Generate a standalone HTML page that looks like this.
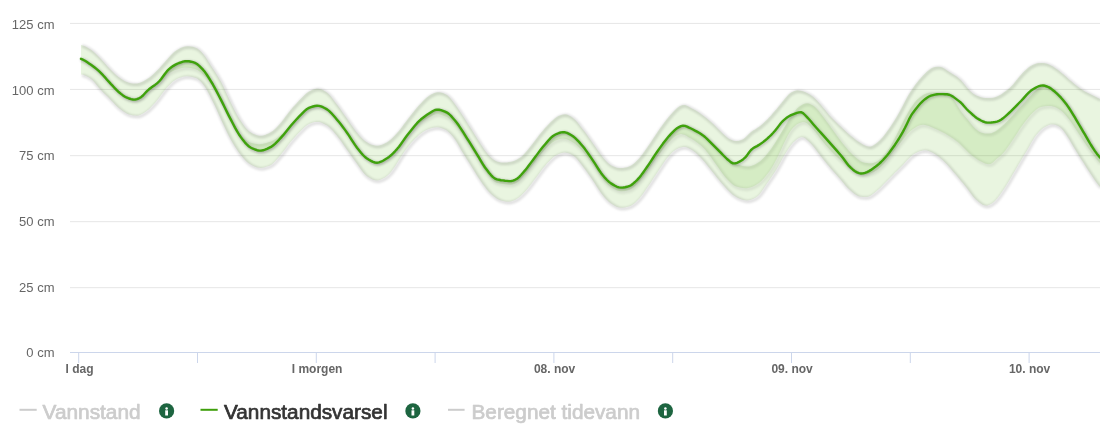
<!DOCTYPE html>
<html><head><meta charset="utf-8">
<style>
html,body{margin:0;padding:0;background:#fff;}
body{width:1100px;height:433px;overflow:hidden;position:relative;font-family:"Liberation Sans",sans-serif;}
svg{position:absolute;left:0;top:0;}
.yl{font-size:13px;fill:#666;text-anchor:end;}
.xl{font-size:12px;fill:#666;font-weight:bold;text-anchor:middle;}
.lg{font-size:20px;font-weight:normal;stroke-width:0.7px;paint-order:stroke;stroke-linejoin:round;}
</style></head>
<body>
<svg width="1100" height="433" viewBox="0 0 1100 433">
<rect width="1100" height="433" fill="#fff"/>
<!-- grid -->
<g stroke="#e6e6e6" stroke-width="1">
<line x1="70" x2="1100" y1="23.4" y2="23.4"/>
<line x1="70" x2="1100" y1="89.4" y2="89.4"/>
<line x1="70" x2="1100" y1="155.7" y2="155.7"/>
<line x1="70" x2="1100" y1="221.7" y2="221.7"/>
<line x1="70" x2="1100" y1="287.7" y2="287.7"/>
</g>
<!-- axis -->
<g stroke="#ccd6eb" stroke-width="1">
<line x1="70" x2="1100" y1="352.5" y2="352.5" shape-rendering="crispEdges"/>
<line x1="78.70" x2="78.70" y1="352" y2="363"/>
<line x1="197.50" x2="197.50" y1="352" y2="363"/>
<line x1="316.30" x2="316.30" y1="352" y2="363"/>
<line x1="435.10" x2="435.10" y1="352" y2="363"/>
<line x1="553.90" x2="553.90" y1="352" y2="363"/>
<line x1="672.70" x2="672.70" y1="352" y2="363"/>
<line x1="791.50" x2="791.50" y1="352" y2="363"/>
<line x1="910.30" x2="910.30" y1="352" y2="363"/>
<line x1="1029.10" x2="1029.10" y1="352" y2="363"/>
</g>
<!-- y labels -->
<g class="yl" opacity="0.999">
<text x="54.5" y="28.9">125 cm</text>
<text x="54.5" y="94.5">100 cm</text>
<text x="54.5" y="160">75 cm</text>
<text x="54.5" y="225.7">50 cm</text>
<text x="54.5" y="291.5">25 cm</text>
<text x="54.5" y="356.8">0 cm</text>
</g>
<!-- x labels -->
<g class="xl" opacity="0.999">
<text x="79.5" y="372.8">I dag</text>
<text x="317.1" y="372.8">I morgen</text>
<text x="554.6" y="372.8">08. nov</text>
<text x="792.1" y="372.8">09. nov</text>
<text x="1029.6" y="372.8">10. nov</text>
</g>
<defs>
<filter id="bl" x="-2%" y="-10%" width="104%" height="120%"><feGaussianBlur stdDeviation="1.0"/></filter>
<path id="pO" d="M81.0 44.9 L83.0 45.5 L85.0 46.3 L87.0 47.3 L89.0 48.5 L91.0 49.8 L93.0 51.3 L95.0 53.1 L97.0 55.0 L99.0 57.0 L101.0 59.1 L103.0 61.2 L105.0 63.5 L107.0 65.7 L109.0 67.9 L111.0 70.0 L113.0 72.0 L115.0 73.9 L117.0 75.7 L119.0 77.3 L121.0 78.7 L123.0 80.0 L125.0 81.2 L127.0 82.1 L129.0 82.8 L131.0 83.2 L133.0 83.4 L135.0 83.5 L137.0 83.5 L139.0 83.1 L141.0 82.3 L143.0 81.4 L145.0 80.3 L147.0 79.1 L149.0 77.8 L151.0 76.2 L153.0 74.4 L155.0 72.5 L157.0 70.6 L159.0 68.5 L161.0 66.2 L163.0 63.9 L165.0 61.7 L167.0 59.4 L169.0 57.2 L171.0 55.0 L173.0 53.0 L175.0 51.3 L177.0 49.9 L179.0 48.7 L181.0 47.7 L183.0 46.9 L185.0 46.4 L187.0 46.2 L189.0 46.3 L191.0 46.5 L193.0 46.8 L195.0 47.4 L197.0 48.3 L199.0 49.8 L201.0 51.6 L203.0 53.7 L205.0 56.3 L207.0 59.3 L209.0 62.5 L211.0 65.7 L213.0 68.7 L215.0 71.8 L217.0 74.9 L219.0 78.2 L221.0 81.8 L223.0 85.8 L225.0 90.1 L227.0 94.4 L229.0 98.7 L231.0 102.9 L233.0 107.0 L235.0 110.9 L237.0 114.7 L239.0 118.2 L241.0 121.3 L243.0 124.3 L245.0 127.0 L247.0 129.3 L249.0 131.2 L251.0 132.6 L253.0 133.7 L255.0 134.6 L257.0 135.3 L259.0 135.7 L261.0 135.8 L263.0 135.5 L265.0 134.9 L267.0 134.1 L269.0 133.2 L271.0 132.1 L273.0 130.7 L275.0 128.9 L277.0 126.9 L279.0 124.7 L281.0 122.4 L283.0 120.0 L285.0 117.3 L287.0 114.6 L289.0 111.9 L291.0 109.4 L293.0 107.1 L295.0 104.9 L297.0 102.7 L299.0 100.6 L301.0 98.6 L303.0 96.5 L305.0 94.5 L307.0 92.8 L309.0 91.5 L311.0 90.4 L313.0 89.5 L315.0 88.9 L317.0 88.6 L319.0 88.7 L321.0 89.2 L323.0 90.1 L325.0 91.2 L327.0 92.5 L329.0 94.3 L331.0 96.6 L333.0 99.2 L335.0 101.9 L337.0 104.6 L339.0 107.3 L341.0 110.1 L343.0 112.9 L345.0 115.8 L347.0 118.6 L349.0 121.5 L351.0 124.4 L353.0 127.3 L355.0 130.0 L357.0 132.5 L359.0 134.9 L361.0 137.2 L363.0 139.2 L365.0 141.0 L367.0 142.3 L369.0 143.4 L371.0 144.4 L373.0 145.1 L375.0 145.6 L377.0 145.8 L379.0 145.5 L381.0 145.0 L383.0 144.2 L385.0 143.3 L387.0 142.2 L389.0 140.8 L391.0 139.2 L393.0 137.3 L395.0 135.2 L397.0 133.0 L399.0 130.7 L401.0 128.2 L403.0 125.5 L405.0 122.8 L407.0 120.2 L409.0 117.6 L411.0 115.1 L413.0 112.5 L415.0 110.0 L417.0 107.6 L419.0 105.3 L421.0 103.2 L423.0 101.1 L425.0 99.1 L427.0 97.3 L429.0 95.8 L431.0 94.6 L433.0 93.6 L435.0 92.7 L437.0 92.2 L439.0 92.2 L441.0 92.5 L443.0 93.1 L445.0 93.9 L447.0 95.1 L449.0 96.7 L451.0 99.0 L453.0 101.6 L455.0 104.3 L457.0 107.1 L459.0 109.9 L461.0 112.9 L463.0 116.0 L465.0 119.1 L467.0 122.2 L469.0 125.4 L471.0 128.6 L473.0 131.8 L475.0 135.0 L477.0 138.2 L479.0 141.3 L481.0 144.5 L483.0 147.6 L485.0 150.4 L487.0 153.0 L489.0 155.4 L491.0 157.5 L493.0 159.3 L495.0 160.5 L497.0 161.4 L499.0 162.1 L501.0 162.5 L503.0 162.6 L505.0 162.6 L507.0 162.4 L509.0 162.1 L511.0 161.7 L513.0 161.2 L515.0 160.4 L517.0 159.4 L519.0 158.3 L521.0 156.9 L523.0 155.2 L525.0 153.1 L527.0 150.7 L529.0 148.3 L531.0 145.8 L533.0 143.2 L535.0 140.6 L537.0 137.9 L539.0 135.2 L541.0 132.8 L543.0 130.4 L545.0 128.1 L547.0 125.9 L549.0 123.8 L551.0 121.8 L553.0 120.0 L555.0 118.2 L557.0 116.7 L559.0 115.7 L561.0 114.9 L563.0 114.4 L565.0 114.3 L567.0 114.6 L569.0 115.5 L571.0 116.6 L573.0 118.0 L575.0 119.7 L577.0 121.8 L579.0 124.3 L581.0 126.9 L583.0 129.5 L585.0 132.1 L587.0 134.8 L589.0 137.7 L591.0 140.5 L593.0 143.4 L595.0 146.3 L597.0 149.2 L599.0 152.1 L601.0 154.8 L603.0 157.4 L605.0 159.7 L607.0 161.9 L609.0 163.8 L611.0 165.2 L613.0 166.2 L615.0 167.1 L617.0 167.7 L619.0 168.0 L621.0 168.1 L623.0 167.9 L625.0 167.6 L627.0 167.2 L629.0 166.5 L631.0 165.5 L633.0 164.2 L635.0 162.6 L637.0 160.6 L639.0 158.4 L641.0 156.0 L643.0 153.4 L645.0 150.6 L647.0 147.7 L649.0 144.8 L651.0 141.9 L653.0 138.8 L655.0 135.8 L657.0 132.8 L659.0 129.8 L661.0 127.0 L663.0 124.2 L665.0 121.5 L667.0 119.0 L669.0 116.5 L671.0 114.2 L673.0 112.0 L675.0 109.9 L677.0 108.1 L679.0 106.6 L681.0 105.5 L683.0 104.9 L685.0 105.1 L687.0 105.8 L689.0 106.8 L691.0 107.9 L693.0 108.9 L695.0 110.1 L697.0 111.3 L699.0 112.6 L701.0 114.0 L703.0 115.5 L705.0 117.0 L707.0 118.6 L709.0 120.3 L711.0 122.0 L713.0 123.8 L715.0 125.7 L717.0 127.7 L719.0 129.8 L721.0 131.8 L723.0 133.7 L725.0 135.6 L727.0 137.3 L729.0 138.7 L731.0 139.7 L733.0 140.5 L735.0 140.9 L737.0 141.0 L739.0 140.7 L741.0 140.1 L743.0 139.2 L745.0 137.7 L747.0 135.7 L749.0 133.7 L751.0 132.0 L753.0 130.6 L755.0 129.4 L757.0 128.1 L759.0 126.7 L761.0 125.2 L763.0 123.4 L765.0 121.6 L767.0 119.7 L769.0 117.6 L771.0 115.4 L773.0 113.1 L775.0 110.7 L777.0 108.4 L779.0 105.9 L781.0 103.5 L783.0 101.1 L785.0 98.6 L787.0 96.2 L789.0 94.1 L791.0 92.6 L793.0 91.5 L795.0 90.7 L797.0 90.3 L799.0 90.4 L801.0 90.8 L803.0 91.3 L805.0 92.0 L807.0 92.9 L809.0 94.0 L811.0 95.3 L813.0 96.8 L815.0 98.6 L817.0 100.6 L819.0 102.8 L821.0 105.0 L823.0 107.4 L825.0 109.8 L827.0 112.3 L829.0 114.7 L831.0 116.9 L833.0 119.0 L835.0 121.0 L837.0 122.9 L839.0 124.9 L841.0 126.8 L843.0 128.7 L845.0 130.6 L847.0 132.5 L849.0 134.3 L851.0 136.0 L853.0 137.6 L855.0 139.2 L857.0 140.7 L859.0 142.1 L861.0 143.3 L863.0 144.4 L865.0 145.4 L867.0 146.2 L869.0 146.6 L871.0 146.4 L873.0 145.5 L875.0 144.2 L877.0 142.7 L879.0 141.0 L881.0 139.0 L883.0 136.7 L885.0 134.2 L887.0 131.5 L889.0 128.7 L891.0 125.8 L893.0 122.7 L895.0 119.5 L897.0 116.2 L899.0 112.7 L901.0 109.0 L903.0 105.2 L905.0 101.3 L907.0 97.6 L909.0 94.1 L911.0 90.9 L913.0 87.9 L915.0 85.1 L917.0 82.5 L919.0 80.0 L921.0 77.7 L923.0 75.6 L925.0 73.5 L927.0 71.6 L929.0 69.9 L931.0 68.5 L933.0 67.5 L935.0 67.0 L937.0 66.8 L939.0 66.8 L941.0 67.1 L943.0 67.8 L945.0 69.1 L947.0 70.5 L949.0 71.8 L951.0 73.1 L953.0 74.2 L955.0 75.5 L957.0 76.8 L959.0 78.4 L961.0 80.3 L963.0 82.6 L965.0 85.1 L967.0 87.5 L969.0 89.7 L971.0 91.7 L973.0 93.4 L975.0 94.7 L977.0 95.8 L979.0 96.6 L981.0 97.2 L983.0 97.7 L985.0 97.9 L987.0 98.1 L989.0 98.1 L991.0 98.1 L993.0 97.7 L995.0 97.2 L997.0 96.5 L999.0 95.6 L1001.0 94.4 L1003.0 93.0 L1005.0 91.6 L1007.0 90.1 L1009.0 88.5 L1011.0 86.6 L1013.0 84.4 L1015.0 82.0 L1017.0 79.5 L1019.0 77.1 L1021.0 74.8 L1023.0 72.6 L1025.0 70.6 L1027.0 68.8 L1029.0 67.1 L1031.0 65.8 L1033.0 64.8 L1035.0 63.9 L1037.0 63.3 L1039.0 63.1 L1041.0 63.0 L1043.0 63.0 L1045.0 63.2 L1047.0 63.7 L1049.0 64.5 L1051.0 65.4 L1053.0 66.6 L1055.0 67.9 L1057.0 69.3 L1059.0 70.8 L1061.0 72.4 L1063.0 74.1 L1065.0 75.8 L1067.0 77.6 L1069.0 79.4 L1071.0 81.1 L1073.0 82.8 L1075.0 84.4 L1077.0 86.0 L1079.0 87.5 L1081.0 88.9 L1083.0 90.2 L1085.0 91.4 L1087.0 92.5 L1089.0 93.5 L1091.0 94.5 L1093.0 95.5 L1095.0 96.6 L1097.0 97.6 L1099.0 98.6 L1100.0 99.1 L1100.0 187.1 L1099.0 185.7 L1097.0 183.3 L1095.0 180.5 L1093.0 177.6 L1091.0 174.6 L1089.0 171.5 L1087.0 168.4 L1085.0 165.3 L1083.0 162.1 L1081.0 159.0 L1079.0 155.8 L1077.0 152.6 L1075.0 149.3 L1073.0 146.0 L1071.0 142.5 L1069.0 139.1 L1067.0 135.9 L1065.0 133.0 L1063.0 130.3 L1061.0 128.1 L1059.0 126.6 L1057.0 125.5 L1055.0 124.8 L1053.0 124.4 L1051.0 124.5 L1049.0 125.0 L1047.0 125.9 L1045.0 126.9 L1043.0 128.2 L1041.0 129.9 L1039.0 131.9 L1037.0 134.2 L1035.0 136.8 L1033.0 139.9 L1031.0 143.3 L1029.0 146.9 L1027.0 150.4 L1025.0 153.7 L1023.0 157.0 L1021.0 160.4 L1019.0 163.8 L1017.0 167.3 L1015.0 170.7 L1013.0 174.1 L1011.0 177.5 L1009.0 180.9 L1007.0 184.3 L1005.0 187.5 L1003.0 190.5 L1001.0 193.5 L999.0 196.3 L997.0 198.8 L995.0 201.0 L993.0 202.7 L991.0 204.1 L989.0 205.1 L987.0 205.7 L985.0 205.6 L983.0 204.9 L981.0 203.8 L979.0 202.3 L977.0 200.6 L975.0 198.8 L973.0 196.5 L971.0 193.8 L969.0 191.1 L967.0 188.3 L965.0 185.8 L963.0 183.3 L961.0 180.9 L959.0 178.5 L957.0 176.1 L955.0 173.8 L953.0 171.5 L951.0 169.1 L949.0 166.8 L947.0 164.5 L945.0 162.4 L943.0 160.5 L941.0 158.7 L939.0 157.1 L937.0 155.5 L935.0 154.2 L933.0 153.0 L931.0 152.0 L929.0 151.2 L927.0 150.6 L925.0 150.3 L923.0 150.5 L921.0 150.9 L919.0 151.5 L917.0 152.4 L915.0 153.5 L913.0 154.8 L911.0 156.5 L909.0 158.5 L907.0 160.6 L905.0 162.7 L903.0 164.9 L901.0 166.9 L899.0 168.9 L897.0 170.9 L895.0 172.8 L893.0 174.9 L891.0 177.0 L889.0 179.0 L887.0 181.1 L885.0 183.1 L883.0 185.1 L881.0 187.2 L879.0 189.1 L877.0 190.8 L875.0 192.5 L873.0 194.1 L871.0 195.5 L869.0 196.5 L867.0 197.0 L865.0 197.1 L863.0 197.0 L861.0 196.8 L859.0 196.4 L857.0 195.5 L855.0 194.2 L853.0 192.7 L851.0 191.0 L849.0 189.2 L847.0 187.2 L845.0 184.9 L843.0 182.4 L841.0 180.0 L839.0 177.7 L837.0 175.4 L835.0 173.2 L833.0 171.0 L831.0 168.7 L829.0 166.3 L827.0 163.9 L825.0 161.4 L823.0 158.9 L821.0 156.4 L819.0 153.8 L817.0 151.2 L815.0 148.5 L813.0 146.0 L811.0 143.7 L809.0 141.7 L807.0 139.9 L805.0 138.3 L803.0 137.3 L801.0 137.2 L799.0 137.9 L797.0 139.2 L795.0 140.9 L793.0 142.8 L791.0 145.2 L789.0 148.0 L787.0 151.0 L785.0 154.2 L783.0 157.6 L781.0 161.3 L779.0 164.9 L777.0 168.4 L775.0 171.7 L773.0 174.8 L771.0 177.8 L769.0 180.7 L767.0 183.6 L765.0 186.5 L763.0 189.6 L761.0 192.5 L759.0 195.0 L757.0 196.8 L755.0 198.1 L753.0 199.0 L751.0 199.8 L749.0 200.3 L747.0 200.5 L745.0 200.3 L743.0 199.9 L741.0 199.2 L739.0 198.4 L737.0 197.4 L735.0 196.3 L733.0 194.9 L731.0 193.2 L729.0 191.2 L727.0 189.2 L725.0 187.0 L723.0 184.8 L721.0 182.5 L719.0 180.1 L717.0 177.7 L715.0 175.1 L713.0 172.6 L711.0 170.1 L709.0 167.6 L707.0 165.1 L705.0 162.6 L703.0 160.3 L701.0 158.1 L699.0 156.0 L697.0 154.1 L695.0 152.3 L693.0 150.8 L691.0 149.5 L689.0 148.4 L687.0 147.5 L685.0 147.0 L683.0 147.0 L681.0 147.4 L679.0 148.0 L677.0 148.9 L675.0 150.2 L673.0 151.8 L671.0 153.8 L669.0 155.9 L667.0 158.3 L665.0 161.0 L663.0 163.9 L661.0 167.0 L659.0 170.0 L657.0 173.0 L655.0 176.1 L653.0 179.1 L651.0 182.2 L649.0 185.2 L647.0 188.1 L645.0 191.0 L643.0 193.9 L641.0 196.6 L639.0 199.0 L637.0 201.1 L635.0 202.9 L633.0 204.4 L631.0 205.7 L629.0 206.5 L627.0 207.1 L625.0 207.5 L623.0 207.7 L621.0 207.8 L619.0 207.5 L617.0 206.9 L615.0 205.9 L613.0 204.7 L611.0 203.4 L609.0 201.9 L607.0 200.1 L605.0 197.9 L603.0 195.6 L601.0 193.0 L599.0 190.1 L597.0 186.9 L595.0 183.8 L593.0 180.7 L591.0 177.7 L589.0 174.9 L587.0 172.1 L585.0 169.3 L583.0 166.7 L581.0 164.1 L579.0 161.5 L577.0 159.1 L575.0 157.0 L573.0 155.5 L571.0 154.4 L569.0 153.5 L567.0 152.9 L565.0 152.6 L563.0 152.8 L561.0 153.2 L559.0 154.0 L557.0 154.9 L555.0 156.1 L553.0 157.6 L551.0 159.4 L549.0 161.4 L547.0 163.6 L545.0 165.9 L543.0 168.3 L541.0 171.0 L539.0 173.7 L537.0 176.4 L535.0 179.1 L533.0 181.8 L531.0 184.5 L529.0 187.1 L527.0 189.5 L525.0 191.7 L523.0 193.8 L521.0 195.7 L519.0 197.5 L517.0 198.8 L515.0 199.9 L513.0 200.7 L511.0 201.4 L509.0 201.7 L507.0 201.8 L505.0 201.5 L503.0 201.1 L501.0 200.5 L499.0 199.7 L497.0 198.7 L495.0 197.3 L493.0 195.7 L491.0 194.0 L489.0 192.0 L487.0 189.7 L485.0 187.1 L483.0 184.4 L481.0 181.5 L479.0 178.5 L477.0 175.4 L475.0 172.2 L473.0 168.9 L471.0 165.7 L469.0 162.5 L467.0 159.4 L465.0 156.2 L463.0 153.1 L461.0 149.7 L459.0 146.1 L457.0 142.6 L455.0 139.5 L453.0 136.8 L451.0 134.4 L449.0 132.4 L447.0 130.8 L445.0 129.6 L443.0 128.7 L441.0 128.0 L439.0 127.5 L437.0 127.3 L435.0 127.4 L433.0 127.8 L431.0 128.3 L429.0 128.9 L427.0 129.7 L425.0 130.8 L423.0 132.1 L421.0 133.5 L419.0 135.1 L417.0 136.9 L415.0 138.8 L413.0 140.9 L411.0 143.1 L409.0 145.5 L407.0 148.0 L405.0 150.8 L403.0 153.7 L401.0 156.8 L399.0 160.0 L397.0 163.3 L395.0 166.4 L393.0 169.3 L391.0 172.0 L389.0 174.3 L387.0 176.1 L385.0 177.5 L383.0 178.6 L381.0 179.5 L379.0 180.2 L377.0 180.4 L375.0 180.3 L373.0 179.7 L371.0 178.8 L369.0 177.6 L367.0 176.3 L365.0 174.6 L363.0 172.3 L361.0 169.6 L359.0 166.7 L357.0 163.8 L355.0 161.1 L353.0 158.3 L351.0 155.4 L349.0 152.6 L347.0 149.7 L345.0 146.9 L343.0 144.0 L341.0 141.1 L339.0 138.4 L337.0 135.8 L335.0 133.4 L333.0 131.1 L331.0 128.9 L329.0 127.0 L327.0 125.5 L325.0 124.4 L323.0 123.4 L321.0 122.6 L319.0 122.1 L317.0 121.9 L315.0 122.1 L313.0 122.6 L311.0 123.2 L309.0 124.1 L307.0 125.2 L305.0 126.8 L303.0 128.7 L301.0 130.7 L299.0 132.7 L297.0 134.8 L295.0 137.0 L293.0 139.3 L291.0 141.6 L289.0 144.1 L287.0 146.7 L285.0 149.4 L283.0 152.1 L281.0 154.6 L279.0 157.0 L277.0 159.3 L275.0 161.5 L273.0 163.5 L271.0 164.9 L269.0 165.9 L267.0 166.6 L265.0 167.2 L263.0 167.7 L261.0 167.9 L259.0 167.8 L257.0 167.4 L255.0 166.7 L253.0 165.8 L251.0 164.8 L249.0 163.5 L247.0 161.9 L245.0 159.9 L243.0 157.7 L241.0 155.2 L239.0 152.7 L237.0 149.8 L235.0 146.7 L233.0 143.4 L231.0 139.9 L229.0 136.2 L227.0 132.3 L225.0 128.1 L223.0 123.8 L221.0 119.4 L219.0 115.0 L217.0 110.5 L215.0 106.0 L213.0 101.9 L211.0 97.9 L209.0 94.1 L207.0 90.3 L205.0 87.0 L203.0 84.2 L201.0 81.8 L199.0 79.9 L197.0 78.5 L195.0 77.7 L193.0 77.2 L191.0 76.7 L189.0 76.4 L187.0 76.3 L185.0 76.4 L183.0 76.8 L181.0 77.4 L179.0 78.1 L177.0 79.0 L175.0 80.2 L173.0 81.6 L171.0 83.4 L169.0 85.5 L167.0 87.6 L165.0 89.9 L163.0 92.5 L161.0 95.2 L159.0 98.0 L157.0 100.5 L155.0 102.9 L153.0 105.1 L151.0 107.3 L149.0 109.2 L147.0 110.8 L145.0 112.3 L143.0 113.5 L141.0 114.6 L139.0 115.4 L137.0 115.7 L135.0 115.6 L133.0 115.4 L131.0 115.1 L129.0 114.6 L127.0 113.7 L125.0 112.6 L123.0 111.3 L121.0 109.8 L119.0 108.3 L117.0 106.4 L115.0 104.4 L113.0 102.3 L111.0 100.2 L109.0 98.1 L107.0 96.1 L105.0 94.2 L103.0 92.2 L101.0 90.1 L99.0 87.9 L97.0 85.5 L95.0 83.1 L93.0 80.8 L91.0 79.0 L89.0 77.6 L87.0 76.5 L85.0 75.5 L83.0 74.8 L81.0 74.4 Z"/>
<path id="pOe" d="M81.0 44.9 L83.0 45.5 L85.0 46.3 L87.0 47.3 L89.0 48.5 L91.0 49.8 L93.0 51.3 L95.0 53.1 L97.0 55.0 L99.0 57.0 L101.0 59.1 L103.0 61.2 L105.0 63.5 L107.0 65.7 L109.0 67.9 L111.0 70.0 L113.0 72.0 L115.0 73.9 L117.0 75.7 L119.0 77.3 L121.0 78.7 L123.0 80.0 L125.0 81.2 L127.0 82.1 L129.0 82.8 L131.0 83.2 L133.0 83.4 L135.0 83.5 L137.0 83.5 L139.0 83.1 L141.0 82.3 L143.0 81.4 L145.0 80.3 L147.0 79.1 L149.0 77.8 L151.0 76.2 L153.0 74.4 L155.0 72.5 L157.0 70.6 L159.0 68.5 L161.0 66.2 L163.0 63.9 L165.0 61.7 L167.0 59.4 L169.0 57.2 L171.0 55.0 L173.0 53.0 L175.0 51.3 L177.0 49.9 L179.0 48.7 L181.0 47.7 L183.0 46.9 L185.0 46.4 L187.0 46.2 L189.0 46.3 L191.0 46.5 L193.0 46.8 L195.0 47.4 L197.0 48.3 L199.0 49.8 L201.0 51.6 L203.0 53.7 L205.0 56.3 L207.0 59.3 L209.0 62.5 L211.0 65.7 L213.0 68.7 L215.0 71.8 L217.0 74.9 L219.0 78.2 L221.0 81.8 L223.0 85.8 L225.0 90.1 L227.0 94.4 L229.0 98.7 L231.0 102.9 L233.0 107.0 L235.0 110.9 L237.0 114.7 L239.0 118.2 L241.0 121.3 L243.0 124.3 L245.0 127.0 L247.0 129.3 L249.0 131.2 L251.0 132.6 L253.0 133.7 L255.0 134.6 L257.0 135.3 L259.0 135.7 L261.0 135.8 L263.0 135.5 L265.0 134.9 L267.0 134.1 L269.0 133.2 L271.0 132.1 L273.0 130.7 L275.0 128.9 L277.0 126.9 L279.0 124.7 L281.0 122.4 L283.0 120.0 L285.0 117.3 L287.0 114.6 L289.0 111.9 L291.0 109.4 L293.0 107.1 L295.0 104.9 L297.0 102.7 L299.0 100.6 L301.0 98.6 L303.0 96.5 L305.0 94.5 L307.0 92.8 L309.0 91.5 L311.0 90.4 L313.0 89.5 L315.0 88.9 L317.0 88.6 L319.0 88.7 L321.0 89.2 L323.0 90.1 L325.0 91.2 L327.0 92.5 L329.0 94.3 L331.0 96.6 L333.0 99.2 L335.0 101.9 L337.0 104.6 L339.0 107.3 L341.0 110.1 L343.0 112.9 L345.0 115.8 L347.0 118.6 L349.0 121.5 L351.0 124.4 L353.0 127.3 L355.0 130.0 L357.0 132.5 L359.0 134.9 L361.0 137.2 L363.0 139.2 L365.0 141.0 L367.0 142.3 L369.0 143.4 L371.0 144.4 L373.0 145.1 L375.0 145.6 L377.0 145.8 L379.0 145.5 L381.0 145.0 L383.0 144.2 L385.0 143.3 L387.0 142.2 L389.0 140.8 L391.0 139.2 L393.0 137.3 L395.0 135.2 L397.0 133.0 L399.0 130.7 L401.0 128.2 L403.0 125.5 L405.0 122.8 L407.0 120.2 L409.0 117.6 L411.0 115.1 L413.0 112.5 L415.0 110.0 L417.0 107.6 L419.0 105.3 L421.0 103.2 L423.0 101.1 L425.0 99.1 L427.0 97.3 L429.0 95.8 L431.0 94.6 L433.0 93.6 L435.0 92.7 L437.0 92.2 L439.0 92.2 L441.0 92.5 L443.0 93.1 L445.0 93.9 L447.0 95.1 L449.0 96.7 L451.0 99.0 L453.0 101.6 L455.0 104.3 L457.0 107.1 L459.0 109.9 L461.0 112.9 L463.0 116.0 L465.0 119.1 L467.0 122.2 L469.0 125.4 L471.0 128.6 L473.0 131.8 L475.0 135.0 L477.0 138.2 L479.0 141.3 L481.0 144.5 L483.0 147.6 L485.0 150.4 L487.0 153.0 L489.0 155.4 L491.0 157.5 L493.0 159.3 L495.0 160.5 L497.0 161.4 L499.0 162.1 L501.0 162.5 L503.0 162.6 L505.0 162.6 L507.0 162.4 L509.0 162.1 L511.0 161.7 L513.0 161.2 L515.0 160.4 L517.0 159.4 L519.0 158.3 L521.0 156.9 L523.0 155.2 L525.0 153.1 L527.0 150.7 L529.0 148.3 L531.0 145.8 L533.0 143.2 L535.0 140.6 L537.0 137.9 L539.0 135.2 L541.0 132.8 L543.0 130.4 L545.0 128.1 L547.0 125.9 L549.0 123.8 L551.0 121.8 L553.0 120.0 L555.0 118.2 L557.0 116.7 L559.0 115.7 L561.0 114.9 L563.0 114.4 L565.0 114.3 L567.0 114.6 L569.0 115.5 L571.0 116.6 L573.0 118.0 L575.0 119.7 L577.0 121.8 L579.0 124.3 L581.0 126.9 L583.0 129.5 L585.0 132.1 L587.0 134.8 L589.0 137.7 L591.0 140.5 L593.0 143.4 L595.0 146.3 L597.0 149.2 L599.0 152.1 L601.0 154.8 L603.0 157.4 L605.0 159.7 L607.0 161.9 L609.0 163.8 L611.0 165.2 L613.0 166.2 L615.0 167.1 L617.0 167.7 L619.0 168.0 L621.0 168.1 L623.0 167.9 L625.0 167.6 L627.0 167.2 L629.0 166.5 L631.0 165.5 L633.0 164.2 L635.0 162.6 L637.0 160.6 L639.0 158.4 L641.0 156.0 L643.0 153.4 L645.0 150.6 L647.0 147.7 L649.0 144.8 L651.0 141.9 L653.0 138.8 L655.0 135.8 L657.0 132.8 L659.0 129.8 L661.0 127.0 L663.0 124.2 L665.0 121.5 L667.0 119.0 L669.0 116.5 L671.0 114.2 L673.0 112.0 L675.0 109.9 L677.0 108.1 L679.0 106.6 L681.0 105.5 L683.0 104.9 L685.0 105.1 L687.0 105.8 L689.0 106.8 L691.0 107.9 L693.0 108.9 L695.0 110.1 L697.0 111.3 L699.0 112.6 L701.0 114.0 L703.0 115.5 L705.0 117.0 L707.0 118.6 L709.0 120.3 L711.0 122.0 L713.0 123.8 L715.0 125.7 L717.0 127.7 L719.0 129.8 L721.0 131.8 L723.0 133.7 L725.0 135.6 L727.0 137.3 L729.0 138.7 L731.0 139.7 L733.0 140.5 L735.0 140.9 L737.0 141.0 L739.0 140.7 L741.0 140.1 L743.0 139.2 L745.0 137.7 L747.0 135.7 L749.0 133.7 L751.0 132.0 L753.0 130.6 L755.0 129.4 L757.0 128.1 L759.0 126.7 L761.0 125.2 L763.0 123.4 L765.0 121.6 L767.0 119.7 L769.0 117.6 L771.0 115.4 L773.0 113.1 L775.0 110.7 L777.0 108.4 L779.0 105.9 L781.0 103.5 L783.0 101.1 L785.0 98.6 L787.0 96.2 L789.0 94.1 L791.0 92.6 L793.0 91.5 L795.0 90.7 L797.0 90.3 L799.0 90.4 L801.0 90.8 L803.0 91.3 L805.0 92.0 L807.0 92.9 L809.0 94.0 L811.0 95.3 L813.0 96.8 L815.0 98.6 L817.0 100.6 L819.0 102.8 L821.0 105.0 L823.0 107.4 L825.0 109.8 L827.0 112.3 L829.0 114.7 L831.0 116.9 L833.0 119.0 L835.0 121.0 L837.0 122.9 L839.0 124.9 L841.0 126.8 L843.0 128.7 L845.0 130.6 L847.0 132.5 L849.0 134.3 L851.0 136.0 L853.0 137.6 L855.0 139.2 L857.0 140.7 L859.0 142.1 L861.0 143.3 L863.0 144.4 L865.0 145.4 L867.0 146.2 L869.0 146.6 L871.0 146.4 L873.0 145.5 L875.0 144.2 L877.0 142.7 L879.0 141.0 L881.0 139.0 L883.0 136.7 L885.0 134.2 L887.0 131.5 L889.0 128.7 L891.0 125.8 L893.0 122.7 L895.0 119.5 L897.0 116.2 L899.0 112.7 L901.0 109.0 L903.0 105.2 L905.0 101.3 L907.0 97.6 L909.0 94.1 L911.0 90.9 L913.0 87.9 L915.0 85.1 L917.0 82.5 L919.0 80.0 L921.0 77.7 L923.0 75.6 L925.0 73.5 L927.0 71.6 L929.0 69.9 L931.0 68.5 L933.0 67.5 L935.0 67.0 L937.0 66.8 L939.0 66.8 L941.0 67.1 L943.0 67.8 L945.0 69.1 L947.0 70.5 L949.0 71.8 L951.0 73.1 L953.0 74.2 L955.0 75.5 L957.0 76.8 L959.0 78.4 L961.0 80.3 L963.0 82.6 L965.0 85.1 L967.0 87.5 L969.0 89.7 L971.0 91.7 L973.0 93.4 L975.0 94.7 L977.0 95.8 L979.0 96.6 L981.0 97.2 L983.0 97.7 L985.0 97.9 L987.0 98.1 L989.0 98.1 L991.0 98.1 L993.0 97.7 L995.0 97.2 L997.0 96.5 L999.0 95.6 L1001.0 94.4 L1003.0 93.0 L1005.0 91.6 L1007.0 90.1 L1009.0 88.5 L1011.0 86.6 L1013.0 84.4 L1015.0 82.0 L1017.0 79.5 L1019.0 77.1 L1021.0 74.8 L1023.0 72.6 L1025.0 70.6 L1027.0 68.8 L1029.0 67.1 L1031.0 65.8 L1033.0 64.8 L1035.0 63.9 L1037.0 63.3 L1039.0 63.1 L1041.0 63.0 L1043.0 63.0 L1045.0 63.2 L1047.0 63.7 L1049.0 64.5 L1051.0 65.4 L1053.0 66.6 L1055.0 67.9 L1057.0 69.3 L1059.0 70.8 L1061.0 72.4 L1063.0 74.1 L1065.0 75.8 L1067.0 77.6 L1069.0 79.4 L1071.0 81.1 L1073.0 82.8 L1075.0 84.4 L1077.0 86.0 L1079.0 87.5 L1081.0 88.9 L1083.0 90.2 L1085.0 91.4 L1087.0 92.5 L1089.0 93.5 L1091.0 94.5 L1093.0 95.5 L1095.0 96.6 L1097.0 97.6 L1099.0 98.6 L1100.0 99.1 M81.0 74.4 L83.0 74.8 L85.0 75.5 L87.0 76.5 L89.0 77.6 L91.0 79.0 L93.0 80.8 L95.0 83.1 L97.0 85.5 L99.0 87.9 L101.0 90.1 L103.0 92.2 L105.0 94.2 L107.0 96.1 L109.0 98.1 L111.0 100.2 L113.0 102.3 L115.0 104.4 L117.0 106.4 L119.0 108.3 L121.0 109.8 L123.0 111.3 L125.0 112.6 L127.0 113.7 L129.0 114.6 L131.0 115.1 L133.0 115.4 L135.0 115.6 L137.0 115.7 L139.0 115.4 L141.0 114.6 L143.0 113.5 L145.0 112.3 L147.0 110.8 L149.0 109.2 L151.0 107.3 L153.0 105.1 L155.0 102.9 L157.0 100.5 L159.0 98.0 L161.0 95.2 L163.0 92.5 L165.0 89.9 L167.0 87.6 L169.0 85.5 L171.0 83.4 L173.0 81.6 L175.0 80.2 L177.0 79.0 L179.0 78.1 L181.0 77.4 L183.0 76.8 L185.0 76.4 L187.0 76.3 L189.0 76.4 L191.0 76.7 L193.0 77.2 L195.0 77.7 L197.0 78.5 L199.0 79.9 L201.0 81.8 L203.0 84.2 L205.0 87.0 L207.0 90.3 L209.0 94.1 L211.0 97.9 L213.0 101.9 L215.0 106.0 L217.0 110.5 L219.0 115.0 L221.0 119.4 L223.0 123.8 L225.0 128.1 L227.0 132.3 L229.0 136.2 L231.0 139.9 L233.0 143.4 L235.0 146.7 L237.0 149.8 L239.0 152.7 L241.0 155.2 L243.0 157.7 L245.0 159.9 L247.0 161.9 L249.0 163.5 L251.0 164.8 L253.0 165.8 L255.0 166.7 L257.0 167.4 L259.0 167.8 L261.0 167.9 L263.0 167.7 L265.0 167.2 L267.0 166.6 L269.0 165.9 L271.0 164.9 L273.0 163.5 L275.0 161.5 L277.0 159.3 L279.0 157.0 L281.0 154.6 L283.0 152.1 L285.0 149.4 L287.0 146.7 L289.0 144.1 L291.0 141.6 L293.0 139.3 L295.0 137.0 L297.0 134.8 L299.0 132.7 L301.0 130.7 L303.0 128.7 L305.0 126.8 L307.0 125.2 L309.0 124.1 L311.0 123.2 L313.0 122.6 L315.0 122.1 L317.0 121.9 L319.0 122.1 L321.0 122.6 L323.0 123.4 L325.0 124.4 L327.0 125.5 L329.0 127.0 L331.0 128.9 L333.0 131.1 L335.0 133.4 L337.0 135.8 L339.0 138.4 L341.0 141.1 L343.0 144.0 L345.0 146.9 L347.0 149.7 L349.0 152.6 L351.0 155.4 L353.0 158.3 L355.0 161.1 L357.0 163.8 L359.0 166.7 L361.0 169.6 L363.0 172.3 L365.0 174.6 L367.0 176.3 L369.0 177.6 L371.0 178.8 L373.0 179.7 L375.0 180.3 L377.0 180.4 L379.0 180.2 L381.0 179.5 L383.0 178.6 L385.0 177.5 L387.0 176.1 L389.0 174.3 L391.0 172.0 L393.0 169.3 L395.0 166.4 L397.0 163.3 L399.0 160.0 L401.0 156.8 L403.0 153.7 L405.0 150.8 L407.0 148.0 L409.0 145.5 L411.0 143.1 L413.0 140.9 L415.0 138.8 L417.0 136.9 L419.0 135.1 L421.0 133.5 L423.0 132.1 L425.0 130.8 L427.0 129.7 L429.0 128.9 L431.0 128.3 L433.0 127.8 L435.0 127.4 L437.0 127.3 L439.0 127.5 L441.0 128.0 L443.0 128.7 L445.0 129.6 L447.0 130.8 L449.0 132.4 L451.0 134.4 L453.0 136.8 L455.0 139.5 L457.0 142.6 L459.0 146.1 L461.0 149.7 L463.0 153.1 L465.0 156.2 L467.0 159.4 L469.0 162.5 L471.0 165.7 L473.0 168.9 L475.0 172.2 L477.0 175.4 L479.0 178.5 L481.0 181.5 L483.0 184.4 L485.0 187.1 L487.0 189.7 L489.0 192.0 L491.0 194.0 L493.0 195.7 L495.0 197.3 L497.0 198.7 L499.0 199.7 L501.0 200.5 L503.0 201.1 L505.0 201.5 L507.0 201.8 L509.0 201.7 L511.0 201.4 L513.0 200.7 L515.0 199.9 L517.0 198.8 L519.0 197.5 L521.0 195.7 L523.0 193.8 L525.0 191.7 L527.0 189.5 L529.0 187.1 L531.0 184.5 L533.0 181.8 L535.0 179.1 L537.0 176.4 L539.0 173.7 L541.0 171.0 L543.0 168.3 L545.0 165.9 L547.0 163.6 L549.0 161.4 L551.0 159.4 L553.0 157.6 L555.0 156.1 L557.0 154.9 L559.0 154.0 L561.0 153.2 L563.0 152.8 L565.0 152.6 L567.0 152.9 L569.0 153.5 L571.0 154.4 L573.0 155.5 L575.0 157.0 L577.0 159.1 L579.0 161.5 L581.0 164.1 L583.0 166.7 L585.0 169.3 L587.0 172.1 L589.0 174.9 L591.0 177.7 L593.0 180.7 L595.0 183.8 L597.0 186.9 L599.0 190.1 L601.0 193.0 L603.0 195.6 L605.0 197.9 L607.0 200.1 L609.0 201.9 L611.0 203.4 L613.0 204.7 L615.0 205.9 L617.0 206.9 L619.0 207.5 L621.0 207.8 L623.0 207.7 L625.0 207.5 L627.0 207.1 L629.0 206.5 L631.0 205.7 L633.0 204.4 L635.0 202.9 L637.0 201.1 L639.0 199.0 L641.0 196.6 L643.0 193.9 L645.0 191.0 L647.0 188.1 L649.0 185.2 L651.0 182.2 L653.0 179.1 L655.0 176.1 L657.0 173.0 L659.0 170.0 L661.0 167.0 L663.0 163.9 L665.0 161.0 L667.0 158.3 L669.0 155.9 L671.0 153.8 L673.0 151.8 L675.0 150.2 L677.0 148.9 L679.0 148.0 L681.0 147.4 L683.0 147.0 L685.0 147.0 L687.0 147.5 L689.0 148.4 L691.0 149.5 L693.0 150.8 L695.0 152.3 L697.0 154.1 L699.0 156.0 L701.0 158.1 L703.0 160.3 L705.0 162.6 L707.0 165.1 L709.0 167.6 L711.0 170.1 L713.0 172.6 L715.0 175.1 L717.0 177.7 L719.0 180.1 L721.0 182.5 L723.0 184.8 L725.0 187.0 L727.0 189.2 L729.0 191.2 L731.0 193.2 L733.0 194.9 L735.0 196.3 L737.0 197.4 L739.0 198.4 L741.0 199.2 L743.0 199.9 L745.0 200.3 L747.0 200.5 L749.0 200.3 L751.0 199.8 L753.0 199.0 L755.0 198.1 L757.0 196.8 L759.0 195.0 L761.0 192.5 L763.0 189.6 L765.0 186.5 L767.0 183.6 L769.0 180.7 L771.0 177.8 L773.0 174.8 L775.0 171.7 L777.0 168.4 L779.0 164.9 L781.0 161.3 L783.0 157.6 L785.0 154.2 L787.0 151.0 L789.0 148.0 L791.0 145.2 L793.0 142.8 L795.0 140.9 L797.0 139.2 L799.0 137.9 L801.0 137.2 L803.0 137.3 L805.0 138.3 L807.0 139.9 L809.0 141.7 L811.0 143.7 L813.0 146.0 L815.0 148.5 L817.0 151.2 L819.0 153.8 L821.0 156.4 L823.0 158.9 L825.0 161.4 L827.0 163.9 L829.0 166.3 L831.0 168.7 L833.0 171.0 L835.0 173.2 L837.0 175.4 L839.0 177.7 L841.0 180.0 L843.0 182.4 L845.0 184.9 L847.0 187.2 L849.0 189.2 L851.0 191.0 L853.0 192.7 L855.0 194.2 L857.0 195.5 L859.0 196.4 L861.0 196.8 L863.0 197.0 L865.0 197.1 L867.0 197.0 L869.0 196.5 L871.0 195.5 L873.0 194.1 L875.0 192.5 L877.0 190.8 L879.0 189.1 L881.0 187.2 L883.0 185.1 L885.0 183.1 L887.0 181.1 L889.0 179.0 L891.0 177.0 L893.0 174.9 L895.0 172.8 L897.0 170.9 L899.0 168.9 L901.0 166.9 L903.0 164.9 L905.0 162.7 L907.0 160.6 L909.0 158.5 L911.0 156.5 L913.0 154.8 L915.0 153.5 L917.0 152.4 L919.0 151.5 L921.0 150.9 L923.0 150.5 L925.0 150.3 L927.0 150.6 L929.0 151.2 L931.0 152.0 L933.0 153.0 L935.0 154.2 L937.0 155.5 L939.0 157.1 L941.0 158.7 L943.0 160.5 L945.0 162.4 L947.0 164.5 L949.0 166.8 L951.0 169.1 L953.0 171.5 L955.0 173.8 L957.0 176.1 L959.0 178.5 L961.0 180.9 L963.0 183.3 L965.0 185.8 L967.0 188.3 L969.0 191.1 L971.0 193.8 L973.0 196.5 L975.0 198.8 L977.0 200.6 L979.0 202.3 L981.0 203.8 L983.0 204.9 L985.0 205.6 L987.0 205.7 L989.0 205.1 L991.0 204.1 L993.0 202.7 L995.0 201.0 L997.0 198.8 L999.0 196.3 L1001.0 193.5 L1003.0 190.5 L1005.0 187.5 L1007.0 184.3 L1009.0 180.9 L1011.0 177.5 L1013.0 174.1 L1015.0 170.7 L1017.0 167.3 L1019.0 163.8 L1021.0 160.4 L1023.0 157.0 L1025.0 153.7 L1027.0 150.4 L1029.0 146.9 L1031.0 143.3 L1033.0 139.9 L1035.0 136.8 L1037.0 134.2 L1039.0 131.9 L1041.0 129.9 L1043.0 128.2 L1045.0 126.9 L1047.0 125.9 L1049.0 125.0 L1051.0 124.5 L1053.0 124.4 L1055.0 124.8 L1057.0 125.5 L1059.0 126.6 L1061.0 128.1 L1063.0 130.3 L1065.0 133.0 L1067.0 135.9 L1069.0 139.1 L1071.0 142.5 L1073.0 146.0 L1075.0 149.3 L1077.0 152.6 L1079.0 155.8 L1081.0 159.0 L1083.0 162.1 L1085.0 165.3 L1087.0 168.4 L1089.0 171.5 L1091.0 174.6 L1093.0 177.6 L1095.0 180.5 L1097.0 183.3 L1099.0 185.7 L1100.0 187.1"/>
<path id="pI" d="M81.0 58.3 L83.0 59.2 L85.0 60.3 L87.0 61.6 L89.0 62.9 L91.0 64.2 L93.0 65.7 L95.0 67.3 L97.0 68.9 L99.0 70.7 L101.0 72.6 L103.0 74.6 L105.0 76.8 L107.0 79.1 L109.0 81.2 L111.0 83.4 L113.0 85.5 L115.0 87.6 L117.0 89.5 L119.0 91.3 L121.0 92.8 L123.0 94.2 L125.0 95.4 L127.0 96.4 L129.0 97.1 L131.0 97.7 L133.0 98.0 L135.0 98.1 L137.0 97.6 L139.0 96.9 L141.0 95.8 L143.0 94.2 L145.0 92.1 L147.0 90.0 L149.0 88.3 L151.0 86.8 L153.0 85.5 L155.0 84.2 L157.0 82.7 L159.0 80.9 L161.0 78.5 L163.0 75.9 L165.0 73.2 L167.0 70.7 L169.0 68.7 L171.0 67.0 L173.0 65.6 L175.0 64.4 L177.0 63.4 L179.0 62.5 L181.0 61.8 L183.0 61.1 L185.0 60.8 L187.0 60.7 L189.0 60.8 L191.0 61.2 L193.0 61.7 L195.0 62.4 L197.0 63.5 L199.0 65.1 L201.0 67.1 L203.0 69.2 L205.0 71.6 L207.0 74.5 L209.0 77.5 L211.0 80.8 L213.0 84.2 L215.0 87.8 L217.0 91.6 L219.0 95.4 L221.0 99.3 L223.0 103.2 L225.0 107.3 L227.0 111.3 L229.0 115.2 L231.0 118.9 L233.0 122.6 L235.0 126.1 L237.0 129.5 L239.0 132.4 L241.0 134.9 L243.0 137.1 L245.0 139.2 L247.0 140.8 L249.0 142.0 L251.0 142.7 L253.0 143.3 L255.0 143.7 L257.0 144.0 L259.0 144.2 L261.0 144.1 L263.0 143.8 L265.0 143.3 L267.0 142.7 L269.0 142.1 L271.0 141.5 L273.0 140.5 L275.0 139.3 L277.0 137.9 L279.0 136.3 L281.0 134.7 L283.0 132.9 L285.0 130.8 L287.0 128.6 L289.0 126.4 L291.0 124.3 L293.0 122.2 L295.0 120.1 L297.0 118.0 L299.0 116.0 L301.0 114.1 L303.0 112.0 L305.0 110.1 L307.0 108.5 L309.0 107.4 L311.0 106.6 L313.0 106.0 L315.0 105.5 L317.0 105.3 L319.0 105.4 L321.0 105.9 L323.0 106.7 L325.0 107.7 L327.0 108.9 L329.0 110.4 L331.0 112.3 L333.0 114.5 L335.0 116.8 L337.0 119.2 L339.0 121.6 L341.0 124.1 L343.0 126.7 L345.0 129.4 L347.0 132.2 L349.0 135.1 L351.0 138.3 L353.0 141.4 L355.0 144.4 L357.0 147.2 L359.0 149.7 L361.0 152.2 L363.0 154.5 L365.0 156.5 L367.0 158.0 L369.0 159.3 L371.0 160.4 L373.0 161.4 L375.0 162.0 L377.0 162.2 L379.0 161.9 L381.0 161.2 L383.0 160.2 L385.0 159.0 L387.0 157.8 L389.0 156.4 L391.0 154.8 L393.0 152.9 L395.0 150.8 L397.0 148.6 L399.0 146.2 L401.0 143.5 L403.0 140.6 L405.0 137.7 L407.0 135.0 L409.0 132.4 L411.0 129.9 L413.0 127.4 L415.0 125.0 L417.0 122.7 L419.0 120.7 L421.0 118.8 L423.0 117.2 L425.0 115.7 L427.0 114.3 L429.0 113.0 L431.0 111.7 L433.0 110.5 L435.0 109.5 L437.0 109.1 L439.0 109.2 L441.0 109.6 L443.0 110.3 L445.0 111.1 L447.0 112.1 L449.0 113.5 L451.0 115.4 L453.0 117.7 L455.0 120.0 L457.0 122.5 L459.0 125.3 L461.0 128.3 L463.0 131.4 L465.0 134.6 L467.0 137.8 L469.0 140.9 L471.0 144.1 L473.0 147.3 L475.0 150.6 L477.0 153.8 L479.0 157.2 L481.0 160.6 L483.0 163.9 L485.0 167.0 L487.0 169.6 L489.0 172.2 L491.0 174.6 L493.0 176.6 L495.0 178.1 L497.0 178.9 L499.0 179.3 L501.0 179.7 L503.0 179.9 L505.0 180.2 L507.0 180.4 L509.0 180.6 L511.0 180.6 L513.0 180.1 L515.0 179.3 L517.0 178.2 L519.0 176.6 L521.0 174.5 L523.0 172.2 L525.0 169.9 L527.0 167.4 L529.0 164.8 L531.0 162.1 L533.0 159.5 L535.0 156.8 L537.0 154.1 L539.0 151.4 L541.0 148.8 L543.0 146.3 L545.0 143.9 L547.0 141.6 L549.0 139.3 L551.0 137.2 L553.0 135.5 L555.0 134.3 L557.0 133.3 L559.0 132.5 L561.0 131.9 L563.0 131.6 L565.0 131.8 L567.0 132.4 L569.0 133.4 L571.0 134.5 L573.0 135.8 L575.0 137.4 L577.0 139.3 L579.0 141.4 L581.0 143.7 L583.0 146.1 L585.0 148.6 L587.0 151.4 L589.0 154.2 L591.0 157.1 L593.0 160.1 L595.0 163.1 L597.0 166.3 L599.0 169.5 L601.0 172.4 L603.0 175.0 L605.0 177.4 L607.0 179.5 L609.0 181.4 L611.0 182.9 L613.0 184.1 L615.0 185.3 L617.0 186.3 L619.0 186.9 L621.0 187.1 L623.0 187.0 L625.0 186.7 L627.0 186.3 L629.0 185.7 L631.0 184.7 L633.0 183.2 L635.0 181.5 L637.0 179.6 L639.0 177.4 L641.0 174.9 L643.0 172.2 L645.0 169.4 L647.0 166.5 L649.0 163.6 L651.0 160.6 L653.0 157.5 L655.0 154.4 L657.0 151.5 L659.0 148.6 L661.0 145.8 L663.0 143.1 L665.0 140.4 L667.0 137.9 L669.0 135.5 L671.0 133.3 L673.0 131.2 L675.0 129.3 L677.0 127.7 L679.0 126.4 L681.0 125.6 L683.0 125.1 L685.0 125.2 L687.0 125.8 L689.0 126.6 L691.0 127.5 L693.0 128.5 L695.0 129.6 L697.0 130.7 L699.0 131.8 L701.0 133.1 L703.0 134.5 L705.0 136.2 L707.0 138.0 L709.0 139.8 L711.0 141.8 L713.0 143.8 L715.0 145.8 L717.0 147.8 L719.0 149.9 L721.0 151.9 L723.0 154.0 L725.0 156.0 L727.0 157.9 L729.0 159.6 L731.0 161.1 L733.0 162.4 L735.0 162.9 L737.0 164.4 L739.0 165.1 L741.0 165.6 L743.0 166.0 L745.0 166.3 L747.0 166.5 L749.0 166.4 L751.0 166.0 L753.0 165.3 L755.0 164.4 L757.0 163.2 L759.0 161.9 L761.0 160.4 L763.0 158.5 L765.0 156.4 L767.0 154.1 L769.0 151.6 L771.0 148.9 L773.0 146.0 L775.0 142.9 L777.0 139.7 L779.0 136.4 L781.0 133.1 L783.0 129.7 L785.0 126.3 L787.0 122.8 L789.0 119.5 L791.0 116.4 L793.0 113.5 L795.0 110.9 L797.0 108.6 L799.0 106.8 L801.0 105.4 L803.0 104.3 L805.0 103.6 L807.0 103.3 L809.0 103.6 L811.0 104.4 L813.0 105.5 L815.0 107.0 L817.0 109.0 L819.0 111.3 L821.0 113.9 L823.0 116.5 L825.0 119.2 L827.0 121.9 L829.0 124.6 L831.0 127.4 L833.0 130.2 L835.0 133.0 L837.0 135.8 L839.0 138.5 L841.0 141.2 L843.0 143.8 L845.0 146.2 L847.0 148.6 L849.0 150.9 L851.0 153.0 L853.0 154.9 L855.0 156.8 L857.0 158.6 L859.0 160.1 L861.0 161.4 L863.0 162.2 L865.0 162.8 L867.0 163.1 L869.0 163.3 L871.0 163.3 L873.0 162.9 L875.0 162.3 L877.0 161.4 L879.0 160.1 L881.0 158.4 L883.0 156.3 L885.0 153.9 L887.0 151.3 L889.0 148.4 L891.0 145.2 L893.0 141.6 L895.0 137.8 L897.0 133.9 L899.0 130.0 L901.0 126.0 L903.0 122.0 L905.0 118.0 L907.0 114.2 L909.0 110.8 L911.0 107.6 L913.0 104.8 L915.0 102.1 L917.0 99.8 L919.0 98.0 L921.0 96.4 L923.0 95.1 L925.0 94.1 L927.0 93.2 L929.0 92.8 L931.0 92.6 L933.0 92.5 L935.0 92.5 L937.0 92.5 L939.0 92.5 L941.0 92.5 L943.0 92.6 L945.0 92.8 L947.0 93.3 L949.0 94.2 L951.0 95.9 L953.0 98.5 L955.0 101.7 L957.0 105.0 L959.0 108.3 L961.0 111.4 L963.0 114.0 L965.0 116.5 L967.0 118.8 L969.0 121.3 L971.0 123.8 L973.0 126.2 L975.0 128.2 L977.0 130.0 L979.0 131.4 L981.0 132.4 L983.0 133.0 L985.0 133.4 L987.0 133.6 L989.0 133.6 L991.0 133.2 L993.0 132.5 L995.0 131.5 L997.0 130.3 L999.0 128.8 L1001.0 127.1 L1003.0 125.3 L1005.0 123.4 L1007.0 121.4 L1009.0 119.3 L1011.0 117.1 L1013.0 114.9 L1015.0 112.7 L1017.0 110.5 L1019.0 108.3 L1021.0 106.2 L1023.0 104.1 L1025.0 102.0 L1027.0 99.8 L1029.0 97.6 L1031.0 95.5 L1033.0 93.3 L1035.0 91.3 L1037.0 89.4 L1039.0 87.7 L1041.0 85.1 L1043.0 85.0 L1045.0 85.1 L1047.0 85.6 L1049.0 86.6 L1051.0 87.8 L1053.0 89.2 L1055.0 90.9 L1057.0 92.7 L1059.0 94.7 L1061.0 96.8 L1063.0 99.1 L1065.0 101.6 L1067.0 104.3 L1069.0 107.2 L1071.0 110.2 L1073.0 113.4 L1075.0 116.7 L1077.0 120.1 L1079.0 123.5 L1081.0 126.9 L1083.0 130.4 L1085.0 133.8 L1087.0 137.2 L1089.0 140.6 L1091.0 143.9 L1093.0 147.0 L1095.0 149.9 L1097.0 152.6 L1099.0 154.8 L1100.0 156.0 L1100.0 163.3 L1099.0 162.0 L1097.0 159.8 L1095.0 157.3 L1093.0 154.6 L1091.0 151.8 L1089.0 149.0 L1087.0 146.2 L1085.0 143.2 L1083.0 140.2 L1081.0 137.2 L1079.0 134.1 L1077.0 131.1 L1075.0 128.0 L1073.0 124.9 L1071.0 122.0 L1069.0 119.2 L1067.0 116.7 L1065.0 114.4 L1063.0 112.3 L1061.0 110.6 L1059.0 109.2 L1057.0 108.0 L1055.0 107.1 L1053.0 106.4 L1051.0 106.0 L1049.0 105.9 L1047.0 106.0 L1045.0 106.2 L1043.0 106.5 L1041.0 107.0 L1039.0 107.8 L1037.0 109.1 L1035.0 110.7 L1033.0 112.6 L1031.0 114.6 L1029.0 116.8 L1027.0 119.2 L1025.0 121.8 L1023.0 124.5 L1021.0 127.3 L1019.0 130.3 L1017.0 133.4 L1015.0 136.4 L1013.0 139.4 L1011.0 142.4 L1009.0 145.4 L1007.0 148.2 L1005.0 150.9 L1003.0 153.3 L1001.0 155.2 L999.0 156.9 L997.0 158.6 L995.0 160.5 L993.0 162.4 L991.0 163.8 L989.0 164.3 L987.0 164.1 L985.0 163.4 L983.0 162.5 L981.0 161.6 L979.0 160.5 L977.0 159.2 L975.0 157.8 L973.0 156.3 L971.0 154.8 L969.0 153.0 L967.0 151.1 L965.0 149.1 L963.0 147.0 L961.0 145.0 L959.0 143.1 L957.0 141.4 L955.0 139.9 L953.0 138.5 L951.0 137.2 L949.0 136.0 L947.0 134.8 L945.0 133.6 L943.0 132.5 L941.0 131.5 L939.0 130.5 L937.0 129.6 L935.0 128.7 L933.0 127.8 L931.0 127.0 L929.0 126.1 L927.0 125.5 L925.0 125.0 L923.0 124.8 L921.0 125.0 L919.0 125.6 L917.0 126.6 L915.0 127.8 L913.0 129.1 L911.0 130.6 L909.0 132.4 L907.0 134.5 L905.0 136.9 L903.0 139.5 L901.0 142.1 L899.0 144.6 L897.0 147.2 L895.0 149.7 L893.0 152.2 L891.0 154.8 L889.0 157.3 L887.0 159.9 L885.0 162.4 L883.0 164.7 L881.0 166.6 L879.0 168.4 L877.0 170.0 L875.0 171.3 L873.0 172.3 L871.0 173.1 L869.0 173.8 L867.0 174.3 L865.0 174.7 L863.0 174.8 L861.0 174.6 L859.0 174.1 L857.0 173.3 L855.0 172.3 L853.0 171.1 L851.0 169.8 L849.0 168.2 L847.0 166.4 L845.0 164.4 L843.0 162.5 L841.0 160.6 L839.0 158.8 L837.0 156.9 L835.0 155.0 L833.0 153.0 L831.0 150.9 L829.0 148.8 L827.0 146.5 L825.0 144.2 L823.0 141.8 L821.0 139.4 L819.0 136.8 L817.0 134.1 L815.0 131.6 L813.0 129.2 L811.0 126.9 L809.0 124.9 L807.0 123.2 L805.0 122.2 L803.0 122.0 L801.0 122.4 L799.0 123.2 L797.0 124.3 L795.0 125.9 L793.0 127.8 L791.0 130.2 L789.0 133.3 L787.0 137.0 L785.0 141.0 L783.0 145.2 L781.0 149.7 L779.0 154.1 L777.0 158.3 L775.0 162.1 L773.0 165.7 L771.0 168.9 L769.0 171.9 L767.0 174.6 L765.0 177.0 L763.0 179.2 L761.0 181.2 L759.0 182.9 L757.0 184.3 L755.0 185.4 L753.0 186.4 L751.0 187.2 L749.0 187.8 L747.0 188.2 L745.0 188.3 L743.0 188.1 L741.0 187.8 L739.0 187.3 L737.0 186.7 L735.0 185.9 L733.0 184.7 L731.0 183.1 L729.0 181.1 L727.0 179.0 L725.0 176.7 L723.0 174.2 L721.0 171.5 L719.0 168.6 L717.0 165.8 L715.0 163.0 L713.0 160.2 L711.0 157.3 L709.0 154.6 L707.0 152.0 L705.0 149.5 L703.0 147.4 L701.0 145.6 L699.0 143.9 L697.0 142.4 L695.0 141.0 L693.0 139.8 L691.0 138.6 L689.0 137.4 L687.0 136.2 L685.0 135.1 L683.0 134.4 L681.0 134.1 L679.0 134.4 L677.0 135.2 L675.0 136.5 L673.0 138.1 L671.0 139.9 L669.0 141.9 L667.0 144.1 L665.0 146.5 L663.0 149.1 L661.0 151.9 L659.0 154.6 L657.0 157.2 L655.0 159.9 L653.0 162.8 L651.0 165.8 L649.0 168.7 L647.0 171.5 L645.0 174.3 L643.0 177.0 L641.0 179.6 L639.0 182.0 L637.0 184.1 L635.0 186.0 L633.0 187.7 L631.0 189.1 L629.0 190.0 L627.0 190.5 L625.0 190.9 L623.0 191.2 L621.0 191.3 L619.0 191.1 L617.0 190.4 L615.0 189.5 L613.0 188.4 L611.0 187.2 L609.0 185.7 L607.0 184.0 L605.0 181.9 L603.0 179.6 L601.0 177.1 L599.0 174.2 L597.0 171.1 L595.0 168.0 L593.0 165.0 L591.0 162.2 L589.0 159.4 L587.0 156.7 L585.0 154.2 L583.0 151.8 L581.0 149.6 L579.0 147.5 L577.0 145.5 L575.0 143.8 L573.0 142.4 L571.0 141.3 L569.0 140.2 L567.0 139.3 L565.0 138.8 L563.0 138.6 L561.0 138.8 L559.0 139.3 L557.0 140.0 L555.0 140.8 L553.0 141.9 L551.0 143.4 L549.0 145.2 L547.0 147.3 L545.0 149.5 L543.0 151.7 L541.0 154.0 L539.0 156.5 L537.0 159.1 L535.0 161.7 L533.0 164.3 L531.0 166.9 L529.0 169.5 L527.0 172.0 L525.0 174.4 L523.0 176.7 L521.0 178.9 L519.0 180.9 L517.0 182.5 L515.0 183.5 L513.0 184.3 L511.0 184.7 L509.0 184.7 L507.0 184.5 L505.0 184.2 L503.0 184.0 L501.0 183.7 L499.0 183.3 L497.0 182.9 L495.0 182.1 L493.0 180.6 L491.0 178.6 L489.0 176.2 L487.0 173.6 L485.0 171.0 L483.0 167.9 L481.0 164.6 L479.0 161.2 L477.0 157.8 L475.0 154.6 L473.0 151.4 L471.0 148.2 L469.0 145.1 L467.0 142.0 L465.0 138.9 L463.0 135.8 L461.0 132.7 L459.0 129.8 L457.0 127.1 L455.0 124.7 L453.0 122.4 L451.0 120.3 L449.0 118.5 L447.0 117.1 L445.0 116.2 L443.0 115.4 L441.0 114.8 L439.0 114.3 L437.0 114.2 L435.0 114.5 L433.0 115.3 L431.0 116.4 L429.0 117.5 L427.0 118.5 L425.0 119.6 L423.0 120.9 L421.0 122.3 L419.0 123.9 L417.0 125.7 L415.0 127.6 L413.0 129.8 L411.0 132.1 L409.0 134.4 L407.0 136.8 L405.0 139.3 L403.0 142.1 L401.0 144.9 L399.0 147.6 L397.0 150.0 L395.0 152.1 L393.0 154.2 L391.0 156.1 L389.0 157.7 L387.0 159.1 L385.0 160.3 L383.0 161.5 L381.0 162.5 L379.0 163.2 L377.0 163.5 L375.0 163.3 L373.0 162.7 L371.0 161.7 L369.0 160.6 L367.0 159.3 L365.0 157.8 L363.0 155.8 L361.0 153.5 L359.0 151.0 L357.0 148.5 L355.0 145.7 L353.0 142.7 L351.0 139.6 L349.0 136.4 L347.0 133.5 L345.0 130.7 L343.0 128.0 L341.0 125.4 L339.0 122.9 L337.0 120.5 L335.0 118.1 L333.0 115.8 L331.0 113.6 L329.0 111.7 L327.0 110.2 L325.0 109.0 L323.0 108.0 L321.0 107.2 L319.0 106.7 L317.0 106.6 L315.0 106.8 L313.0 107.3 L311.0 107.9 L309.0 108.7 L307.0 109.9 L305.0 111.5 L303.0 113.4 L301.0 115.5 L299.0 117.5 L297.0 119.6 L295.0 121.8 L293.0 124.1 L291.0 126.3 L289.0 128.7 L287.0 131.2 L285.0 133.7 L283.0 136.2 L281.0 138.5 L279.0 140.6 L277.0 142.7 L275.0 144.6 L273.0 146.3 L271.0 147.7 L269.0 148.8 L267.0 149.8 L265.0 150.6 L263.0 151.2 L261.0 151.5 L259.0 151.5 L257.0 151.1 L255.0 150.4 L253.0 149.6 L251.0 148.6 L249.0 147.4 L247.0 145.7 L245.0 143.5 L243.0 141.0 L241.0 138.3 L239.0 135.4 L237.0 132.2 L235.0 128.6 L233.0 124.8 L231.0 120.9 L229.0 117.1 L227.0 113.1 L225.0 109.0 L223.0 105.1 L221.0 101.2 L219.0 97.5 L217.0 93.9 L215.0 90.5 L213.0 87.2 L211.0 84.2 L209.0 81.4 L207.0 78.8 L205.0 76.4 L203.0 74.4 L201.0 72.6 L199.0 71.1 L197.0 69.8 L195.0 68.9 L193.0 68.4 L191.0 68.0 L189.0 67.7 L187.0 67.5 L185.0 67.6 L183.0 67.8 L181.0 68.3 L179.0 68.8 L177.0 69.4 L175.0 70.1 L173.0 70.9 L171.0 72.0 L169.0 73.2 L167.0 74.8 L165.0 76.8 L163.0 79.1 L161.0 81.4 L159.0 83.4 L157.0 85.0 L155.0 86.3 L153.0 87.5 L151.0 88.8 L149.0 90.3 L147.0 92.2 L145.0 94.3 L143.0 96.5 L141.0 98.2 L139.0 99.3 L137.0 100.1 L135.0 100.6 L133.0 100.5 L131.0 100.1 L129.0 99.5 L127.0 98.7 L125.0 97.7 L123.0 96.4 L121.0 94.9 L119.0 93.3 L117.0 91.4 L115.0 89.4 L113.0 87.2 L111.0 85.1 L109.0 82.9 L107.0 80.7 L105.0 78.4 L103.0 76.2 L101.0 74.1 L99.0 72.2 L97.0 70.4 L95.0 68.8 L93.0 67.2 L91.0 65.7 L89.0 64.4 L87.0 63.1 L85.0 61.8 L83.0 60.7 L81.0 59.8 Z"/>
<path id="pIe" d="M81.0 58.3 L83.0 59.2 L85.0 60.3 L87.0 61.6 L89.0 62.9 L91.0 64.2 L93.0 65.7 L95.0 67.3 L97.0 68.9 L99.0 70.7 L101.0 72.6 L103.0 74.6 L105.0 76.8 L107.0 79.1 L109.0 81.2 L111.0 83.4 L113.0 85.5 L115.0 87.6 L117.0 89.5 L119.0 91.3 L121.0 92.8 L123.0 94.2 L125.0 95.4 L127.0 96.4 L129.0 97.1 L131.0 97.7 L133.0 98.0 L135.0 98.1 L137.0 97.6 L139.0 96.9 L141.0 95.8 L143.0 94.2 L145.0 92.1 L147.0 90.0 L149.0 88.3 L151.0 86.8 L153.0 85.5 L155.0 84.2 L157.0 82.7 L159.0 80.9 L161.0 78.5 L163.0 75.9 L165.0 73.2 L167.0 70.7 L169.0 68.7 L171.0 67.0 L173.0 65.6 L175.0 64.4 L177.0 63.4 L179.0 62.5 L181.0 61.8 L183.0 61.1 L185.0 60.8 L187.0 60.7 L189.0 60.8 L191.0 61.2 L193.0 61.7 L195.0 62.4 L197.0 63.5 L199.0 65.1 L201.0 67.1 L203.0 69.2 L205.0 71.6 L207.0 74.5 L209.0 77.5 L211.0 80.8 L213.0 84.2 L215.0 87.8 L217.0 91.6 L219.0 95.4 L221.0 99.3 L223.0 103.2 L225.0 107.3 L227.0 111.3 L229.0 115.2 L231.0 118.9 L233.0 122.6 L235.0 126.1 L237.0 129.5 L239.0 132.4 L241.0 134.9 L243.0 137.1 L245.0 139.2 L247.0 140.8 L249.0 142.0 L251.0 142.7 L253.0 143.3 L255.0 143.7 L257.0 144.0 L259.0 144.2 L261.0 144.1 L263.0 143.8 L265.0 143.3 L267.0 142.7 L269.0 142.1 L271.0 141.5 L273.0 140.5 L275.0 139.3 L277.0 137.9 L279.0 136.3 L281.0 134.7 L283.0 132.9 L285.0 130.8 L287.0 128.6 L289.0 126.4 L291.0 124.3 L293.0 122.2 L295.0 120.1 L297.0 118.0 L299.0 116.0 L301.0 114.1 L303.0 112.0 L305.0 110.1 L307.0 108.5 L309.0 107.4 L311.0 106.6 L313.0 106.0 L315.0 105.5 L317.0 105.3 L319.0 105.4 L321.0 105.9 L323.0 106.7 L325.0 107.7 L327.0 108.9 L329.0 110.4 L331.0 112.3 L333.0 114.5 L335.0 116.8 L337.0 119.2 L339.0 121.6 L341.0 124.1 L343.0 126.7 L345.0 129.4 L347.0 132.2 L349.0 135.1 L351.0 138.3 L353.0 141.4 L355.0 144.4 L357.0 147.2 L359.0 149.7 L361.0 152.2 L363.0 154.5 L365.0 156.5 L367.0 158.0 L369.0 159.3 L371.0 160.4 L373.0 161.4 L375.0 162.0 L377.0 162.2 L379.0 161.9 L381.0 161.2 L383.0 160.2 L385.0 159.0 L387.0 157.8 L389.0 156.4 L391.0 154.8 L393.0 152.9 L395.0 150.8 L397.0 148.6 L399.0 146.2 L401.0 143.5 L403.0 140.6 L405.0 137.7 L407.0 135.0 L409.0 132.4 L411.0 129.9 L413.0 127.4 L415.0 125.0 L417.0 122.7 L419.0 120.7 L421.0 118.8 L423.0 117.2 L425.0 115.7 L427.0 114.3 L429.0 113.0 L431.0 111.7 L433.0 110.5 L435.0 109.5 L437.0 109.1 L439.0 109.2 L441.0 109.6 L443.0 110.3 L445.0 111.1 L447.0 112.1 L449.0 113.5 L451.0 115.4 L453.0 117.7 L455.0 120.0 L457.0 122.5 L459.0 125.3 L461.0 128.3 L463.0 131.4 L465.0 134.6 L467.0 137.8 L469.0 140.9 L471.0 144.1 L473.0 147.3 L475.0 150.6 L477.0 153.8 L479.0 157.2 L481.0 160.6 L483.0 163.9 L485.0 167.0 L487.0 169.6 L489.0 172.2 L491.0 174.6 L493.0 176.6 L495.0 178.1 L497.0 178.9 L499.0 179.3 L501.0 179.7 L503.0 179.9 L505.0 180.2 L507.0 180.4 L509.0 180.6 L511.0 180.6 L513.0 180.1 L515.0 179.3 L517.0 178.2 L519.0 176.6 L521.0 174.5 L523.0 172.2 L525.0 169.9 L527.0 167.4 L529.0 164.8 L531.0 162.1 L533.0 159.5 L535.0 156.8 L537.0 154.1 L539.0 151.4 L541.0 148.8 L543.0 146.3 L545.0 143.9 L547.0 141.6 L549.0 139.3 L551.0 137.2 L553.0 135.5 L555.0 134.3 L557.0 133.3 L559.0 132.5 L561.0 131.9 L563.0 131.6 L565.0 131.8 L567.0 132.4 L569.0 133.4 L571.0 134.5 L573.0 135.8 L575.0 137.4 L577.0 139.3 L579.0 141.4 L581.0 143.7 L583.0 146.1 L585.0 148.6 L587.0 151.4 L589.0 154.2 L591.0 157.1 L593.0 160.1 L595.0 163.1 L597.0 166.3 L599.0 169.5 L601.0 172.4 L603.0 175.0 L605.0 177.4 L607.0 179.5 L609.0 181.4 L611.0 182.9 L613.0 184.1 L615.0 185.3 L617.0 186.3 L619.0 186.9 L621.0 187.1 L623.0 187.0 L625.0 186.7 L627.0 186.3 L629.0 185.7 L631.0 184.7 L633.0 183.2 L635.0 181.5 L637.0 179.6 L639.0 177.4 L641.0 174.9 L643.0 172.2 L645.0 169.4 L647.0 166.5 L649.0 163.6 L651.0 160.6 L653.0 157.5 L655.0 154.4 L657.0 151.5 L659.0 148.6 L661.0 145.8 L663.0 143.1 L665.0 140.4 L667.0 137.9 L669.0 135.5 L671.0 133.3 L673.0 131.2 L675.0 129.3 L677.0 127.7 L679.0 126.4 L681.0 125.6 L683.0 125.1 L685.0 125.2 L687.0 125.8 L689.0 126.6 L691.0 127.5 L693.0 128.5 L695.0 129.6 L697.0 130.7 L699.0 131.8 L701.0 133.1 L703.0 134.5 L705.0 136.2 L707.0 138.0 L709.0 139.8 L711.0 141.8 L713.0 143.8 L715.0 145.8 L717.0 147.8 L719.0 149.9 L721.0 151.9 L723.0 154.0 L725.0 156.0 L727.0 157.9 L729.0 159.6 L731.0 161.1 L733.0 162.4 L735.0 162.9 L737.0 164.4 L739.0 165.1 L741.0 165.6 L743.0 166.0 L745.0 166.3 L747.0 166.5 L749.0 166.4 L751.0 166.0 L753.0 165.3 L755.0 164.4 L757.0 163.2 L759.0 161.9 L761.0 160.4 L763.0 158.5 L765.0 156.4 L767.0 154.1 L769.0 151.6 L771.0 148.9 L773.0 146.0 L775.0 142.9 L777.0 139.7 L779.0 136.4 L781.0 133.1 L783.0 129.7 L785.0 126.3 L787.0 122.8 L789.0 119.5 L791.0 116.4 L793.0 113.5 L795.0 110.9 L797.0 108.6 L799.0 106.8 L801.0 105.4 L803.0 104.3 L805.0 103.6 L807.0 103.3 L809.0 103.6 L811.0 104.4 L813.0 105.5 L815.0 107.0 L817.0 109.0 L819.0 111.3 L821.0 113.9 L823.0 116.5 L825.0 119.2 L827.0 121.9 L829.0 124.6 L831.0 127.4 L833.0 130.2 L835.0 133.0 L837.0 135.8 L839.0 138.5 L841.0 141.2 L843.0 143.8 L845.0 146.2 L847.0 148.6 L849.0 150.9 L851.0 153.0 L853.0 154.9 L855.0 156.8 L857.0 158.6 L859.0 160.1 L861.0 161.4 L863.0 162.2 L865.0 162.8 L867.0 163.1 L869.0 163.3 L871.0 163.3 L873.0 162.9 L875.0 162.3 L877.0 161.4 L879.0 160.1 L881.0 158.4 L883.0 156.3 L885.0 153.9 L887.0 151.3 L889.0 148.4 L891.0 145.2 L893.0 141.6 L895.0 137.8 L897.0 133.9 L899.0 130.0 L901.0 126.0 L903.0 122.0 L905.0 118.0 L907.0 114.2 L909.0 110.8 L911.0 107.6 L913.0 104.8 L915.0 102.1 L917.0 99.8 L919.0 98.0 L921.0 96.4 L923.0 95.1 L925.0 94.1 L927.0 93.2 L929.0 92.8 L931.0 92.6 L933.0 92.5 L935.0 92.5 L937.0 92.5 L939.0 92.5 L941.0 92.5 L943.0 92.6 L945.0 92.8 L947.0 93.3 L949.0 94.2 L951.0 95.9 L953.0 98.5 L955.0 101.7 L957.0 105.0 L959.0 108.3 L961.0 111.4 L963.0 114.0 L965.0 116.5 L967.0 118.8 L969.0 121.3 L971.0 123.8 L973.0 126.2 L975.0 128.2 L977.0 130.0 L979.0 131.4 L981.0 132.4 L983.0 133.0 L985.0 133.4 L987.0 133.6 L989.0 133.6 L991.0 133.2 L993.0 132.5 L995.0 131.5 L997.0 130.3 L999.0 128.8 L1001.0 127.1 L1003.0 125.3 L1005.0 123.4 L1007.0 121.4 L1009.0 119.3 L1011.0 117.1 L1013.0 114.9 L1015.0 112.7 L1017.0 110.5 L1019.0 108.3 L1021.0 106.2 L1023.0 104.1 L1025.0 102.0 L1027.0 99.8 L1029.0 97.6 L1031.0 95.5 L1033.0 93.3 L1035.0 91.3 L1037.0 89.4 L1039.0 87.7 L1041.0 85.1 L1043.0 85.0 L1045.0 85.1 L1047.0 85.6 L1049.0 86.6 L1051.0 87.8 L1053.0 89.2 L1055.0 90.9 L1057.0 92.7 L1059.0 94.7 L1061.0 96.8 L1063.0 99.1 L1065.0 101.6 L1067.0 104.3 L1069.0 107.2 L1071.0 110.2 L1073.0 113.4 L1075.0 116.7 L1077.0 120.1 L1079.0 123.5 L1081.0 126.9 L1083.0 130.4 L1085.0 133.8 L1087.0 137.2 L1089.0 140.6 L1091.0 143.9 L1093.0 147.0 L1095.0 149.9 L1097.0 152.6 L1099.0 154.8 L1100.0 156.0 M81.0 59.8 L83.0 60.7 L85.0 61.8 L87.0 63.1 L89.0 64.4 L91.0 65.7 L93.0 67.2 L95.0 68.8 L97.0 70.4 L99.0 72.2 L101.0 74.1 L103.0 76.2 L105.0 78.4 L107.0 80.7 L109.0 82.9 L111.0 85.1 L113.0 87.2 L115.0 89.4 L117.0 91.4 L119.0 93.3 L121.0 94.9 L123.0 96.4 L125.0 97.7 L127.0 98.7 L129.0 99.5 L131.0 100.1 L133.0 100.5 L135.0 100.6 L137.0 100.1 L139.0 99.3 L141.0 98.2 L143.0 96.5 L145.0 94.3 L147.0 92.2 L149.0 90.3 L151.0 88.8 L153.0 87.5 L155.0 86.3 L157.0 85.0 L159.0 83.4 L161.0 81.4 L163.0 79.1 L165.0 76.8 L167.0 74.8 L169.0 73.2 L171.0 72.0 L173.0 70.9 L175.0 70.1 L177.0 69.4 L179.0 68.8 L181.0 68.3 L183.0 67.8 L185.0 67.6 L187.0 67.5 L189.0 67.7 L191.0 68.0 L193.0 68.4 L195.0 68.9 L197.0 69.8 L199.0 71.1 L201.0 72.6 L203.0 74.4 L205.0 76.4 L207.0 78.8 L209.0 81.4 L211.0 84.2 L213.0 87.2 L215.0 90.5 L217.0 93.9 L219.0 97.5 L221.0 101.2 L223.0 105.1 L225.0 109.0 L227.0 113.1 L229.0 117.1 L231.0 120.9 L233.0 124.8 L235.0 128.6 L237.0 132.2 L239.0 135.4 L241.0 138.3 L243.0 141.0 L245.0 143.5 L247.0 145.7 L249.0 147.4 L251.0 148.6 L253.0 149.6 L255.0 150.4 L257.0 151.1 L259.0 151.5 L261.0 151.5 L263.0 151.2 L265.0 150.6 L267.0 149.8 L269.0 148.8 L271.0 147.7 L273.0 146.3 L275.0 144.6 L277.0 142.7 L279.0 140.6 L281.0 138.5 L283.0 136.2 L285.0 133.7 L287.0 131.2 L289.0 128.7 L291.0 126.3 L293.0 124.1 L295.0 121.8 L297.0 119.6 L299.0 117.5 L301.0 115.5 L303.0 113.4 L305.0 111.5 L307.0 109.9 L309.0 108.7 L311.0 107.9 L313.0 107.3 L315.0 106.8 L317.0 106.6 L319.0 106.7 L321.0 107.2 L323.0 108.0 L325.0 109.0 L327.0 110.2 L329.0 111.7 L331.0 113.6 L333.0 115.8 L335.0 118.1 L337.0 120.5 L339.0 122.9 L341.0 125.4 L343.0 128.0 L345.0 130.7 L347.0 133.5 L349.0 136.4 L351.0 139.6 L353.0 142.7 L355.0 145.7 L357.0 148.5 L359.0 151.0 L361.0 153.5 L363.0 155.8 L365.0 157.8 L367.0 159.3 L369.0 160.6 L371.0 161.7 L373.0 162.7 L375.0 163.3 L377.0 163.5 L379.0 163.2 L381.0 162.5 L383.0 161.5 L385.0 160.3 L387.0 159.1 L389.0 157.7 L391.0 156.1 L393.0 154.2 L395.0 152.1 L397.0 150.0 L399.0 147.6 L401.0 144.9 L403.0 142.1 L405.0 139.3 L407.0 136.8 L409.0 134.4 L411.0 132.1 L413.0 129.8 L415.0 127.6 L417.0 125.7 L419.0 123.9 L421.0 122.3 L423.0 120.9 L425.0 119.6 L427.0 118.5 L429.0 117.5 L431.0 116.4 L433.0 115.3 L435.0 114.5 L437.0 114.2 L439.0 114.3 L441.0 114.8 L443.0 115.4 L445.0 116.2 L447.0 117.1 L449.0 118.5 L451.0 120.3 L453.0 122.4 L455.0 124.7 L457.0 127.1 L459.0 129.8 L461.0 132.7 L463.0 135.8 L465.0 138.9 L467.0 142.0 L469.0 145.1 L471.0 148.2 L473.0 151.4 L475.0 154.6 L477.0 157.8 L479.0 161.2 L481.0 164.6 L483.0 167.9 L485.0 171.0 L487.0 173.6 L489.0 176.2 L491.0 178.6 L493.0 180.6 L495.0 182.1 L497.0 182.9 L499.0 183.3 L501.0 183.7 L503.0 184.0 L505.0 184.2 L507.0 184.5 L509.0 184.7 L511.0 184.7 L513.0 184.3 L515.0 183.5 L517.0 182.5 L519.0 180.9 L521.0 178.9 L523.0 176.7 L525.0 174.4 L527.0 172.0 L529.0 169.5 L531.0 166.9 L533.0 164.3 L535.0 161.7 L537.0 159.1 L539.0 156.5 L541.0 154.0 L543.0 151.7 L545.0 149.5 L547.0 147.3 L549.0 145.2 L551.0 143.4 L553.0 141.9 L555.0 140.8 L557.0 140.0 L559.0 139.3 L561.0 138.8 L563.0 138.6 L565.0 138.8 L567.0 139.3 L569.0 140.2 L571.0 141.3 L573.0 142.4 L575.0 143.8 L577.0 145.5 L579.0 147.5 L581.0 149.6 L583.0 151.8 L585.0 154.2 L587.0 156.7 L589.0 159.4 L591.0 162.2 L593.0 165.0 L595.0 168.0 L597.0 171.1 L599.0 174.2 L601.0 177.1 L603.0 179.6 L605.0 181.9 L607.0 184.0 L609.0 185.7 L611.0 187.2 L613.0 188.4 L615.0 189.5 L617.0 190.4 L619.0 191.1 L621.0 191.3 L623.0 191.2 L625.0 190.9 L627.0 190.5 L629.0 190.0 L631.0 189.1 L633.0 187.7 L635.0 186.0 L637.0 184.1 L639.0 182.0 L641.0 179.6 L643.0 177.0 L645.0 174.3 L647.0 171.5 L649.0 168.7 L651.0 165.8 L653.0 162.8 L655.0 159.9 L657.0 157.2 L659.0 154.6 L661.0 151.9 L663.0 149.1 L665.0 146.5 L667.0 144.1 L669.0 141.9 L671.0 139.9 L673.0 138.1 L675.0 136.5 L677.0 135.2 L679.0 134.4 L681.0 134.1 L683.0 134.4 L685.0 135.1 L687.0 136.2 L689.0 137.4 L691.0 138.6 L693.0 139.8 L695.0 141.0 L697.0 142.4 L699.0 143.9 L701.0 145.6 L703.0 147.4 L705.0 149.5 L707.0 152.0 L709.0 154.6 L711.0 157.3 L713.0 160.2 L715.0 163.0 L717.0 165.8 L719.0 168.6 L721.0 171.5 L723.0 174.2 L725.0 176.7 L727.0 179.0 L729.0 181.1 L731.0 183.1 L733.0 184.7 L735.0 185.9 L737.0 186.7 L739.0 187.3 L741.0 187.8 L743.0 188.1 L745.0 188.3 L747.0 188.2 L749.0 187.8 L751.0 187.2 L753.0 186.4 L755.0 185.4 L757.0 184.3 L759.0 182.9 L761.0 181.2 L763.0 179.2 L765.0 177.0 L767.0 174.6 L769.0 171.9 L771.0 168.9 L773.0 165.7 L775.0 162.1 L777.0 158.3 L779.0 154.1 L781.0 149.7 L783.0 145.2 L785.0 141.0 L787.0 137.0 L789.0 133.3 L791.0 130.2 L793.0 127.8 L795.0 125.9 L797.0 124.3 L799.0 123.2 L801.0 122.4 L803.0 122.0 L805.0 122.2 L807.0 123.2 L809.0 124.9 L811.0 126.9 L813.0 129.2 L815.0 131.6 L817.0 134.1 L819.0 136.8 L821.0 139.4 L823.0 141.8 L825.0 144.2 L827.0 146.5 L829.0 148.8 L831.0 150.9 L833.0 153.0 L835.0 155.0 L837.0 156.9 L839.0 158.8 L841.0 160.6 L843.0 162.5 L845.0 164.4 L847.0 166.4 L849.0 168.2 L851.0 169.8 L853.0 171.1 L855.0 172.3 L857.0 173.3 L859.0 174.1 L861.0 174.6 L863.0 174.8 L865.0 174.7 L867.0 174.3 L869.0 173.8 L871.0 173.1 L873.0 172.3 L875.0 171.3 L877.0 170.0 L879.0 168.4 L881.0 166.6 L883.0 164.7 L885.0 162.4 L887.0 159.9 L889.0 157.3 L891.0 154.8 L893.0 152.2 L895.0 149.7 L897.0 147.2 L899.0 144.6 L901.0 142.1 L903.0 139.5 L905.0 136.9 L907.0 134.5 L909.0 132.4 L911.0 130.6 L913.0 129.1 L915.0 127.8 L917.0 126.6 L919.0 125.6 L921.0 125.0 L923.0 124.8 L925.0 125.0 L927.0 125.5 L929.0 126.1 L931.0 127.0 L933.0 127.8 L935.0 128.7 L937.0 129.6 L939.0 130.5 L941.0 131.5 L943.0 132.5 L945.0 133.6 L947.0 134.8 L949.0 136.0 L951.0 137.2 L953.0 138.5 L955.0 139.9 L957.0 141.4 L959.0 143.1 L961.0 145.0 L963.0 147.0 L965.0 149.1 L967.0 151.1 L969.0 153.0 L971.0 154.8 L973.0 156.3 L975.0 157.8 L977.0 159.2 L979.0 160.5 L981.0 161.6 L983.0 162.5 L985.0 163.4 L987.0 164.1 L989.0 164.3 L991.0 163.8 L993.0 162.4 L995.0 160.5 L997.0 158.6 L999.0 156.9 L1001.0 155.2 L1003.0 153.3 L1005.0 150.9 L1007.0 148.2 L1009.0 145.4 L1011.0 142.4 L1013.0 139.4 L1015.0 136.4 L1017.0 133.4 L1019.0 130.3 L1021.0 127.3 L1023.0 124.5 L1025.0 121.8 L1027.0 119.2 L1029.0 116.8 L1031.0 114.6 L1033.0 112.6 L1035.0 110.7 L1037.0 109.1 L1039.0 107.8 L1041.0 107.0 L1043.0 106.5 L1045.0 106.2 L1047.0 106.0 L1049.0 105.9 L1051.0 106.0 L1053.0 106.4 L1055.0 107.1 L1057.0 108.0 L1059.0 109.2 L1061.0 110.6 L1063.0 112.3 L1065.0 114.4 L1067.0 116.7 L1069.0 119.2 L1071.0 122.0 L1073.0 124.9 L1075.0 128.0 L1077.0 131.1 L1079.0 134.1 L1081.0 137.2 L1083.0 140.2 L1085.0 143.2 L1087.0 146.2 L1089.0 149.0 L1091.0 151.8 L1093.0 154.6 L1095.0 157.3 L1097.0 159.8 L1099.0 162.0 L1100.0 163.3"/>
<path id="pL" d="M81.0 58.8 L83.0 59.7 L85.0 60.8 L87.0 62.1 L89.0 63.4 L91.0 64.7 L93.0 66.2 L95.0 67.8 L97.0 69.4 L99.0 71.2 L101.0 73.1 L103.0 75.2 L105.0 77.4 L107.0 79.7 L109.0 81.9 L111.0 84.1 L113.0 86.2 L115.0 88.4 L117.0 90.4 L119.0 92.3 L121.0 93.9 L123.0 95.4 L125.0 96.7 L127.0 97.7 L129.0 98.5 L131.0 99.1 L133.0 99.5 L135.0 99.6 L137.0 99.1 L139.0 98.3 L141.0 97.2 L143.0 95.5 L145.0 93.3 L147.0 91.1 L149.0 89.3 L151.0 87.7 L153.0 86.3 L155.0 84.9 L157.0 83.4 L159.0 81.5 L161.0 79.2 L163.0 76.5 L165.0 73.7 L167.0 71.2 L169.0 69.2 L171.0 67.5 L173.0 66.1 L175.0 64.9 L177.0 63.9 L179.0 63.0 L181.0 62.3 L183.0 61.6 L185.0 61.3 L187.0 61.2 L189.0 61.3 L191.0 61.7 L193.0 62.2 L195.0 62.9 L197.0 64.0 L199.0 65.6 L201.0 67.6 L203.0 69.7 L205.0 72.1 L207.0 75.0 L209.0 78.1 L211.0 81.3 L213.0 84.7 L215.0 88.4 L217.0 92.1 L219.0 96.0 L221.0 99.9 L223.0 103.9 L225.0 108.0 L227.0 112.1 L229.0 116.1 L231.0 119.9 L233.0 123.8 L235.0 127.6 L237.0 131.2 L239.0 134.5 L241.0 137.4 L243.0 140.1 L245.0 142.6 L247.0 144.7 L249.0 146.5 L251.0 147.7 L253.0 148.7 L255.0 149.5 L257.0 150.2 L259.0 150.6 L261.0 150.6 L263.0 150.3 L265.0 149.7 L267.0 148.9 L269.0 147.9 L271.0 146.9 L273.0 145.5 L275.0 143.8 L277.0 141.8 L279.0 139.8 L281.0 137.6 L283.0 135.4 L285.0 132.9 L287.0 130.4 L289.0 127.9 L291.0 125.5 L293.0 123.2 L295.0 121.0 L297.0 118.8 L299.0 116.7 L301.0 114.7 L303.0 112.6 L305.0 110.7 L307.0 109.0 L309.0 107.9 L311.0 107.1 L313.0 106.5 L315.0 106.0 L317.0 105.8 L319.0 105.9 L321.0 106.4 L323.0 107.2 L325.0 108.2 L327.0 109.4 L329.0 110.9 L331.0 112.8 L333.0 115.0 L335.0 117.3 L337.0 119.7 L339.0 122.1 L341.0 124.6 L343.0 127.2 L345.0 129.9 L347.0 132.7 L349.0 135.6 L351.0 138.8 L353.0 141.9 L355.0 144.9 L357.0 147.7 L359.0 150.2 L361.0 152.7 L363.0 155.0 L365.0 157.0 L367.0 158.5 L369.0 159.8 L371.0 160.9 L373.0 161.9 L375.0 162.5 L377.0 162.7 L379.0 162.4 L381.0 161.7 L383.0 160.7 L385.0 159.5 L387.0 158.3 L389.0 156.9 L391.0 155.3 L393.0 153.4 L395.0 151.3 L397.0 149.1 L399.0 146.7 L401.0 144.0 L403.0 141.1 L405.0 138.2 L407.0 135.5 L409.0 132.9 L411.0 130.4 L413.0 127.9 L415.0 125.5 L417.0 123.2 L419.0 121.2 L421.0 119.3 L423.0 117.7 L425.0 116.2 L427.0 114.8 L429.0 113.5 L431.0 112.2 L433.0 111.0 L435.0 110.0 L437.0 109.6 L439.0 109.7 L441.0 110.1 L443.0 110.8 L445.0 111.6 L447.0 112.6 L449.0 114.0 L451.0 115.9 L453.0 118.2 L455.0 120.5 L457.0 123.0 L459.0 125.8 L461.0 128.8 L463.0 131.9 L465.0 135.1 L467.0 138.3 L469.0 141.4 L471.0 144.6 L473.0 147.8 L475.0 151.1 L477.0 154.3 L479.0 157.7 L481.0 161.1 L483.0 164.4 L485.0 167.5 L487.0 170.1 L489.0 172.7 L491.0 175.1 L493.0 177.1 L495.0 178.6 L497.0 179.4 L499.0 179.8 L501.0 180.2 L503.0 180.4 L505.0 180.7 L507.0 180.9 L509.0 181.1 L511.0 181.1 L513.0 180.6 L515.0 179.8 L517.0 178.7 L519.0 177.1 L521.0 175.0 L523.0 172.7 L525.0 170.4 L527.0 167.9 L529.0 165.3 L531.0 162.6 L533.0 160.0 L535.0 157.3 L537.0 154.6 L539.0 151.9 L541.0 149.3 L543.0 146.8 L545.0 144.4 L547.0 142.1 L549.0 139.8 L551.0 137.7 L553.0 136.0 L555.0 134.8 L557.0 133.8 L559.0 133.0 L561.0 132.4 L563.0 132.1 L565.0 132.3 L567.0 132.9 L569.0 133.9 L571.0 135.0 L573.0 136.3 L575.0 137.9 L577.0 139.8 L579.0 141.9 L581.0 144.2 L583.0 146.6 L585.0 149.1 L587.0 151.9 L589.0 154.7 L591.0 157.6 L593.0 160.6 L595.0 163.6 L597.0 166.8 L599.0 170.0 L601.0 172.9 L603.0 175.5 L605.0 177.9 L607.0 180.0 L609.0 181.9 L611.0 183.4 L613.0 184.6 L615.0 185.8 L617.0 186.8 L619.0 187.4 L621.0 187.6 L623.0 187.5 L625.0 187.2 L627.0 186.8 L629.0 186.2 L631.0 185.2 L633.0 183.7 L635.0 182.0 L637.0 180.1 L639.0 177.9 L641.0 175.4 L643.0 172.7 L645.0 169.9 L647.0 167.0 L649.0 164.1 L651.0 161.1 L653.0 158.0 L655.0 154.9 L657.0 152.0 L659.0 149.1 L661.0 146.4 L663.0 143.6 L665.0 141.0 L667.0 138.5 L669.0 136.1 L671.0 133.9 L673.0 131.8 L675.0 129.9 L677.0 128.3 L679.0 127.1 L681.0 126.1 L683.0 125.6 L685.0 125.9 L687.0 126.6 L689.0 127.6 L691.0 128.5 L693.0 129.5 L695.0 130.6 L697.0 131.6 L699.0 132.7 L701.0 134.0 L703.0 135.4 L705.0 137.0 L707.0 138.9 L709.0 140.8 L711.0 142.8 L713.0 144.8 L715.0 146.8 L717.0 148.8 L719.0 150.9 L721.0 152.9 L723.0 155.0 L725.0 157.0 L727.0 159.0 L729.0 160.7 L731.0 162.4 L733.0 163.4 L735.0 163.4 L737.0 162.8 L739.0 161.9 L741.0 160.8 L743.0 159.4 L745.0 157.7 L747.0 155.4 L749.0 152.5 L751.0 150.0 L753.0 148.3 L755.0 147.1 L757.0 146.1 L759.0 144.9 L761.0 143.6 L763.0 142.1 L765.0 140.5 L767.0 138.8 L769.0 137.0 L771.0 135.1 L773.0 133.0 L775.0 130.8 L777.0 128.3 L779.0 125.6 L781.0 123.0 L783.0 120.9 L785.0 119.1 L787.0 117.5 L789.0 116.2 L791.0 115.1 L793.0 114.3 L795.0 113.6 L797.0 112.9 L799.0 112.4 L801.0 112.2 L803.0 113.1 L805.0 115.0 L807.0 117.1 L809.0 119.3 L811.0 121.5 L813.0 123.9 L815.0 126.2 L817.0 128.5 L819.0 130.7 L821.0 132.9 L823.0 135.1 L825.0 137.4 L827.0 139.6 L829.0 141.9 L831.0 144.1 L833.0 146.4 L835.0 148.6 L837.0 150.9 L839.0 153.2 L841.0 155.5 L843.0 158.1 L845.0 160.8 L847.0 163.4 L849.0 165.9 L851.0 167.9 L853.0 169.7 L855.0 171.2 L857.0 172.4 L859.0 173.1 L861.0 173.5 L863.0 173.4 L865.0 172.9 L867.0 172.1 L869.0 171.1 L871.0 169.9 L873.0 168.5 L875.0 167.1 L877.0 165.5 L879.0 163.8 L881.0 162.0 L883.0 160.0 L885.0 157.8 L887.0 155.5 L889.0 153.0 L891.0 150.3 L893.0 147.5 L895.0 144.7 L897.0 141.6 L899.0 138.5 L901.0 135.1 L903.0 131.6 L905.0 127.8 L907.0 123.7 L909.0 119.4 L911.0 115.7 L913.0 112.7 L915.0 110.1 L917.0 107.5 L919.0 105.1 L921.0 102.8 L923.0 100.9 L925.0 99.2 L927.0 97.7 L929.0 96.5 L931.0 95.7 L933.0 95.1 L935.0 94.6 L937.0 94.2 L939.0 94.1 L941.0 94.1 L943.0 94.1 L945.0 94.2 L947.0 94.3 L949.0 94.7 L951.0 95.5 L953.0 96.6 L955.0 98.1 L957.0 99.6 L959.0 101.1 L961.0 102.7 L963.0 104.9 L965.0 107.3 L967.0 109.5 L969.0 111.4 L971.0 113.2 L973.0 115.0 L975.0 116.7 L977.0 118.2 L979.0 119.4 L981.0 120.5 L983.0 121.5 L985.0 122.2 L987.0 122.6 L989.0 122.6 L991.0 122.5 L993.0 122.3 L995.0 122.0 L997.0 121.6 L999.0 120.9 L1001.0 119.8 L1003.0 118.3 L1005.0 116.6 L1007.0 114.8 L1009.0 113.0 L1011.0 111.2 L1013.0 109.2 L1015.0 107.2 L1017.0 105.1 L1019.0 103.0 L1021.0 101.0 L1023.0 98.9 L1025.0 96.6 L1027.0 94.4 L1029.0 92.4 L1031.0 90.6 L1033.0 89.2 L1035.0 88.1 L1037.0 87.0 L1039.0 86.2 L1041.0 85.6 L1043.0 85.5 L1045.0 85.8 L1047.0 86.5 L1049.0 87.4 L1051.0 88.6 L1053.0 90.2 L1055.0 91.8 L1057.0 93.7 L1059.0 95.6 L1061.0 97.7 L1063.0 100.0 L1065.0 102.5 L1067.0 105.1 L1069.0 108.0 L1071.0 111.1 L1073.0 114.4 L1075.0 117.7 L1077.0 121.1 L1079.0 124.5 L1081.0 127.9 L1083.0 131.3 L1085.0 134.7 L1087.0 138.2 L1089.0 141.7 L1091.0 145.0 L1093.0 148.1 L1095.0 151.1 L1097.0 153.9 L1099.0 156.3 L1100.0 157.6"/>
</defs>
<!-- outer band -->
<use href="#pO" fill="#46af00" fill-opacity="0.12"/>
<g fill="none" stroke="#000" transform="translate(1,1)" stroke-linejoin="round" filter="url(#bl)" opacity="0.65">
<use href="#pOe" stroke-opacity="0.05" stroke-width="5"/>
<use href="#pOe" stroke-opacity="0.1" stroke-width="3"/>
<use href="#pOe" stroke-opacity="0.15" stroke-width="1"/>
</g>
<!-- inner band -->
<use href="#pI" fill="#46af00" fill-opacity="0.12"/>
<g fill="none" stroke="#000" transform="translate(1,1)" stroke-linejoin="round" filter="url(#bl)" opacity="0.4">
<use href="#pIe" stroke-opacity="0.05" stroke-width="5"/>
<use href="#pIe" stroke-opacity="0.1" stroke-width="3"/>
<use href="#pIe" stroke-opacity="0.15" stroke-width="1"/>
</g>
<!-- line -->
<g fill="none" stroke="#000" transform="translate(1,1)" stroke-linejoin="round" stroke-linecap="round" filter="url(#bl)">
<use href="#pL" stroke-opacity="0.05" stroke-width="5"/>
<use href="#pL" stroke-opacity="0.1" stroke-width="3"/>
<use href="#pL" stroke-opacity="0.15" stroke-width="1"/>
</g>
<use href="#pL" fill="none" stroke="#3fa20c" stroke-width="2.4" stroke-linejoin="round" stroke-linecap="round"/>
<!-- legend -->
<g class="lg" opacity="0.999">
<line x1="19.5" x2="36.7" y1="409.8" y2="409.8" stroke="#ccc" stroke-width="2"/>
<text x="42.6" y="418.8" fill="#ccc" stroke="#ccc" textLength="98" lengthAdjust="spacingAndGlyphs">Vannstand</text>
<line x1="200.5" x2="217.7" y1="409.8" y2="409.8" stroke="#3f9f0c" stroke-width="2"/>
<text x="224" y="418.8" fill="#333" stroke="#333" textLength="163.5" lengthAdjust="spacingAndGlyphs">Vannstandsvarsel</text>
<line x1="448" x2="464.6" y1="409.8" y2="409.8" stroke="#ccc" stroke-width="2"/>
<text x="471.5" y="418.8" fill="#ccc" stroke="#ccc" textLength="168.5" lengthAdjust="spacingAndGlyphs">Beregnet tidevann</text>
</g>
<g id="info">
<g transform="translate(166.6,410.9)"><circle r="7.6" fill="#1d6540"/><circle cx="0" cy="-2.5" r="1.25" fill="#fff"/><rect x="-1.4" y="-0.6" width="2.8" height="5.2" fill="#fff"/></g>
<g transform="translate(412.9,410.9)"><circle r="7.6" fill="#1d6540"/><circle cx="0" cy="-2.5" r="1.25" fill="#fff"/><rect x="-1.4" y="-0.6" width="2.8" height="5.2" fill="#fff"/></g>
<g transform="translate(665.4,410.9)"><circle r="7.6" fill="#1d6540"/><circle cx="0" cy="-2.5" r="1.25" fill="#fff"/><rect x="-1.4" y="-0.6" width="2.8" height="5.2" fill="#fff"/></g>
</g>
</svg>
</body></html>
